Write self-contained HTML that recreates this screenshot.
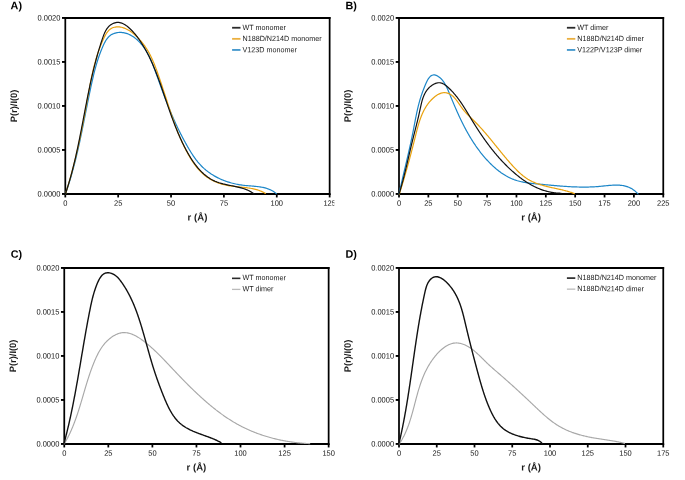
<!DOCTYPE html>
<html><head><meta charset="utf-8"><title>P(r) distributions</title>
<style>
html,body{margin:0;padding:0;background:#fff;}
body{width:685px;height:480px;overflow:hidden;}
svg{display:block;font-family:"Liberation Sans", sans-serif;}
text{filter:grayscale(1);}
</style></head>
<body>
<svg width="685" height="480" viewBox="0 0 685 480">
<rect width="685" height="480" fill="#fff"/>
<text transform="translate(10.60,9.20) rotate(0.05)" font-size="10.8" font-weight="bold" fill="#000">A)</text>
<line x1="64.42" y1="17.95" x2="330.51" y2="17.95" stroke="#000" stroke-width="1.90"/>
<line x1="64.42" y1="193.95" x2="330.51" y2="193.95" stroke="#000" stroke-width="1.90"/>
<line x1="65.30" y1="17.00" x2="65.30" y2="194.90" stroke="#000" stroke-width="1.75"/>
<line x1="329.64" y1="17.00" x2="329.64" y2="194.90" stroke="#000" stroke-width="1.75"/>
<line x1="62.00" y1="193.95" x2="65.30" y2="193.95" stroke="#000" stroke-width="1.90"/>
<text transform="translate(60.40,196.40) rotate(0.050) scale(1,1.040)" font-size="7.50" text-anchor="end" fill="#1a1a1a">0.0000</text>
<line x1="62.00" y1="149.95" x2="65.30" y2="149.95" stroke="#000" stroke-width="1.90"/>
<text transform="translate(60.40,152.40) rotate(0.050) scale(1,1.040)" font-size="7.50" text-anchor="end" fill="#1a1a1a">0.0005</text>
<line x1="62.00" y1="105.95" x2="65.30" y2="105.95" stroke="#000" stroke-width="1.90"/>
<text transform="translate(60.40,108.40) rotate(0.050) scale(1,1.040)" font-size="7.50" text-anchor="end" fill="#1a1a1a">0.0010</text>
<line x1="62.00" y1="61.95" x2="65.30" y2="61.95" stroke="#000" stroke-width="1.90"/>
<text transform="translate(60.40,64.40) rotate(0.050) scale(1,1.040)" font-size="7.50" text-anchor="end" fill="#1a1a1a">0.0015</text>
<line x1="62.00" y1="17.95" x2="65.30" y2="17.95" stroke="#000" stroke-width="1.90"/>
<text transform="translate(60.40,20.40) rotate(0.050) scale(1,1.040)" font-size="7.50" text-anchor="end" fill="#1a1a1a">0.0020</text>
<line x1="65.30" y1="193.95" x2="65.30" y2="197.45" stroke="#000" stroke-width="1.75"/>
<text transform="translate(65.30,205.80) rotate(0.050) scale(1,1.040)" font-size="7.50" text-anchor="middle" fill="#1a1a1a">0</text>
<line x1="118.17" y1="193.95" x2="118.17" y2="197.45" stroke="#000" stroke-width="1.75"/>
<text transform="translate(118.17,205.80) rotate(0.050) scale(1,1.040)" font-size="7.50" text-anchor="middle" fill="#1a1a1a">25</text>
<line x1="171.04" y1="193.95" x2="171.04" y2="197.45" stroke="#000" stroke-width="1.75"/>
<text transform="translate(171.04,205.80) rotate(0.050) scale(1,1.040)" font-size="7.50" text-anchor="middle" fill="#1a1a1a">50</text>
<line x1="223.90" y1="193.95" x2="223.90" y2="197.45" stroke="#000" stroke-width="1.75"/>
<text transform="translate(223.90,205.80) rotate(0.050) scale(1,1.040)" font-size="7.50" text-anchor="middle" fill="#1a1a1a">75</text>
<line x1="276.77" y1="193.95" x2="276.77" y2="197.45" stroke="#000" stroke-width="1.75"/>
<text transform="translate(276.77,205.80) rotate(0.050) scale(1,1.040)" font-size="7.50" text-anchor="middle" fill="#1a1a1a">100</text>
<line x1="329.64" y1="193.95" x2="329.64" y2="197.45" stroke="#000" stroke-width="1.75"/>
<text transform="translate(329.64,205.80) rotate(0.050) scale(1,1.040)" font-size="7.50" text-anchor="middle" fill="#1a1a1a">125</text>
<text transform="translate(197.47,220.45) rotate(0.05)" font-size="9.60" font-weight="bold" text-anchor="middle" fill="#1a1a1a">r (&#197;)</text>
<text transform="translate(17.00,105.95) rotate(-89.95)" font-size="9.30" font-weight="bold" text-anchor="middle" fill="#1a1a1a">P(r)/I(0)</text>
<path d="M65.44,193.74 L65.80,192.75 L66.15,191.76 L66.49,190.77 L66.83,189.77 L67.17,188.78 L67.51,187.78 L67.84,186.78 L68.17,185.78 L68.49,184.78 L68.81,183.78 L69.13,182.78 L69.44,181.78 L69.75,180.78 L70.06,179.77 L70.37,178.77 L70.67,177.76 L70.97,176.75 L71.26,175.74 L71.55,174.73 L71.84,173.73 L72.13,172.71 L72.41,171.70 L72.70,170.69 L72.97,169.68 L73.25,168.66 L73.52,167.65 L73.79,166.64 L74.06,165.62 L74.33,164.60 L74.59,163.59 L74.85,162.57 L75.11,161.55 L75.37,160.53 L75.62,159.51 L75.87,158.49 L76.12,157.47 L76.37,156.45 L76.61,155.43 L76.86,154.40 L77.10,153.38 L77.34,152.36 L77.58,151.33 L77.81,150.31 L78.05,149.28 L78.28,148.26 L78.51,147.23 L78.74,146.20 L78.97,145.18 L79.19,144.15 L79.42,143.12 L79.64,142.09 L79.86,141.07 L80.08,140.04 L80.30,139.01 L80.52,137.98 L80.74,136.95 L80.96,135.92 L81.17,134.89 L81.39,133.86 L81.60,132.83 L81.81,131.80 L82.02,130.77 L82.23,129.74 L82.44,128.71 L82.65,127.67 L82.86,126.64 L83.07,125.61 L83.28,124.58 L83.48,123.55 L83.69,122.51 L83.89,121.48 L84.10,120.45 L84.31,119.42 L84.51,118.39 L84.72,117.35 L84.92,116.32 L85.12,115.29 L85.33,114.26 L85.53,113.23 L85.74,112.19 L85.94,111.16 L86.15,110.13 L86.35,109.10 L86.56,108.07 L86.76,107.04 L86.97,106.01 L87.17,104.97 L87.38,103.94 L87.59,102.91 L87.80,101.88 L88.00,100.85 L88.21,99.82 L88.42,98.79 L88.63,97.77 L88.84,96.74 L89.05,95.71 L89.27,94.68 L89.48,93.65 L89.70,92.62 L89.91,91.60 L90.13,90.57 L90.35,89.54 L90.56,88.52 L90.78,87.49 L91.01,86.47 L91.23,85.44 L91.45,84.42 L91.68,83.40 L91.90,82.37 L92.13,81.35 L92.36,80.33 L92.60,79.31 L92.83,78.29 L93.07,77.27 L93.31,76.25 L93.55,75.23 L93.80,74.21 L94.05,73.19 L94.30,72.17 L94.56,71.16 L94.82,70.14 L95.09,69.13 L95.36,68.11 L95.64,67.10 L95.92,66.09 L96.21,65.08 L96.50,64.07 L96.80,63.06 L97.11,62.05 L97.42,61.04 L97.74,60.03 L98.07,59.02 L98.40,58.02 L98.74,57.01 L99.09,56.01 L99.44,55.01 L99.81,54.00 L100.18,53.00 L100.56,52.00 L100.95,51.00 L101.35,50.01 L101.76,49.01 L102.18,48.01 L102.61,47.02 L103.04,46.02 L103.49,45.03 L103.95,44.05 L104.43,43.07 L104.93,42.11 L105.45,41.18 L105.99,40.27 L106.57,39.39 L107.17,38.55 L107.81,37.76 L108.49,37.01 L109.20,36.32 L109.96,35.68 L110.76,35.10 L111.60,34.58 L112.47,34.12 L113.37,33.72 L114.29,33.37 L115.24,33.08 L116.21,32.84 L117.20,32.65 L118.20,32.52 L119.21,32.45 L120.23,32.42 L121.25,32.45 L122.27,32.53 L123.29,32.66 L124.30,32.84 L125.31,33.07 L126.30,33.34 L127.28,33.67 L128.24,34.04 L129.20,34.45 L130.14,34.91 L131.06,35.40 L131.98,35.93 L132.88,36.50 L133.76,37.10 L134.63,37.74 L135.48,38.40 L136.32,39.09 L137.14,39.82 L137.94,40.56 L138.73,41.33 L139.50,42.12 L140.25,42.93 L140.98,43.76 L141.70,44.60 L142.39,45.46 L143.07,46.33 L143.72,47.21 L144.36,48.09 L144.98,48.99 L145.57,49.89 L146.15,50.80 L146.70,51.70 L147.23,52.61 L147.75,53.53 L148.25,54.45 L148.73,55.37 L149.20,56.29 L149.65,57.22 L150.09,58.15 L150.52,59.08 L150.93,60.02 L151.34,60.96 L151.73,61.90 L152.12,62.84 L152.50,63.79 L152.87,64.74 L153.23,65.70 L153.60,66.65 L153.95,67.61 L154.31,68.57 L154.66,69.54 L155.01,70.51 L155.37,71.48 L155.72,72.45 L156.07,73.43 L156.42,74.40 L156.78,75.39 L157.13,76.37 L157.49,77.35 L157.84,78.34 L158.20,79.33 L158.56,80.32 L158.91,81.31 L159.27,82.30 L159.63,83.29 L159.99,84.29 L160.35,85.28 L160.72,86.28 L161.08,87.27 L161.44,88.27 L161.81,89.27 L162.18,90.27 L162.55,91.26 L162.91,92.26 L163.28,93.26 L163.66,94.26 L164.03,95.25 L164.40,96.25 L164.78,97.25 L165.16,98.24 L165.54,99.24 L165.92,100.23 L166.30,101.22 L166.68,102.21 L167.07,103.20 L167.46,104.19 L167.84,105.17 L168.24,106.15 L168.63,107.13 L169.02,108.11 L169.42,109.09 L169.82,110.07 L170.22,111.04 L170.62,112.01 L171.03,112.97 L171.43,113.94 L171.84,114.90 L172.25,115.86 L172.67,116.81 L173.08,117.77 L173.50,118.72 L173.92,119.67 L174.35,120.62 L174.78,121.56 L175.21,122.51 L175.64,123.45 L176.07,124.39 L176.51,125.33 L176.96,126.27 L177.40,127.20 L177.85,128.14 L178.30,129.07 L178.76,130.01 L179.22,130.94 L179.68,131.87 L180.14,132.80 L180.61,133.72 L181.09,134.65 L181.57,135.58 L182.05,136.51 L182.53,137.43 L183.02,138.36 L183.51,139.28 L184.01,140.21 L184.51,141.13 L185.02,142.06 L185.53,142.98 L186.05,143.91 L186.57,144.83 L187.09,145.75 L187.62,146.68 L188.15,147.60 L188.69,148.53 L189.24,149.45 L189.79,150.37 L190.35,151.29 L190.91,152.20 L191.49,153.11 L192.07,154.01 L192.65,154.91 L193.25,155.80 L193.85,156.68 L194.47,157.55 L195.09,158.42 L195.72,159.28 L196.36,160.13 L197.02,160.96 L197.68,161.79 L198.36,162.60 L199.04,163.40 L199.74,164.19 L200.45,164.96 L201.17,165.72 L201.91,166.47 L202.65,167.20 L203.41,167.91 L204.18,168.61 L204.97,169.29 L205.76,169.97 L206.56,170.62 L207.38,171.26 L208.21,171.89 L209.04,172.50 L209.89,173.10 L210.75,173.69 L211.61,174.26 L212.49,174.81 L213.37,175.35 L214.26,175.88 L215.17,176.39 L216.08,176.89 L217.00,177.38 L217.92,177.85 L218.86,178.31 L219.80,178.75 L220.75,179.18 L221.71,179.60 L222.67,180.00 L223.64,180.39 L224.62,180.77 L225.60,181.13 L226.59,181.48 L227.59,181.81 L228.59,182.13 L229.60,182.44 L230.61,182.73 L231.62,183.02 L232.64,183.28 L233.67,183.54 L234.70,183.78 L235.73,184.01 L236.77,184.22 L237.81,184.43 L238.86,184.62 L239.90,184.79 L240.95,184.96 L242.00,185.11 L243.06,185.25 L244.12,185.37 L245.18,185.48 L246.24,185.59 L247.30,185.68 L248.36,185.77 L249.42,185.86 L250.48,185.94 L251.54,186.02 L252.60,186.10 L253.66,186.19 L254.71,186.28 L255.76,186.38 L256.81,186.49 L257.85,186.61 L258.89,186.74 L259.92,186.89 L260.95,187.05 L261.97,187.24 L262.99,187.44 L264.00,187.67 L265.00,187.92 L265.99,188.20 L266.97,188.50 L267.95,188.84 L268.92,189.21 L269.87,189.62 L270.82,190.06 L271.75,190.54 L272.68,191.05 L273.59,191.61 L274.49,192.22 L275.37,192.87 L276.25,193.57" fill="none" stroke="#1C86C8" stroke-width="1.20" stroke-linejoin="round" stroke-linecap="round"/>
<path d="M65.50,193.73 L65.82,192.73 L66.15,191.73 L66.47,190.73 L66.78,189.72 L67.10,188.72 L67.41,187.71 L67.72,186.70 L68.02,185.69 L68.33,184.68 L68.63,183.67 L68.93,182.66 L69.23,181.65 L69.52,180.64 L69.81,179.62 L70.10,178.61 L70.39,177.59 L70.68,176.57 L70.96,175.56 L71.24,174.54 L71.52,173.52 L71.80,172.50 L72.08,171.48 L72.35,170.46 L72.62,169.43 L72.89,168.41 L73.16,167.39 L73.42,166.36 L73.68,165.34 L73.94,164.31 L74.20,163.29 L74.46,162.26 L74.72,161.23 L74.97,160.20 L75.22,159.17 L75.47,158.14 L75.72,157.11 L75.97,156.08 L76.21,155.05 L76.45,154.02 L76.69,152.99 L76.93,151.96 L77.17,150.92 L77.41,149.89 L77.64,148.86 L77.88,147.82 L78.11,146.79 L78.34,145.75 L78.57,144.71 L78.79,143.68 L79.02,142.64 L79.24,141.60 L79.47,140.57 L79.69,139.53 L79.91,138.49 L80.13,137.45 L80.34,136.41 L80.56,135.38 L80.77,134.34 L80.99,133.30 L81.20,132.26 L81.41,131.22 L81.62,130.18 L81.83,129.14 L82.04,128.10 L82.24,127.06 L82.45,126.02 L82.65,124.97 L82.86,123.93 L83.06,122.89 L83.26,121.85 L83.46,120.81 L83.66,119.77 L83.86,118.73 L84.06,117.69 L84.25,116.64 L84.45,115.60 L84.65,114.56 L84.84,113.52 L85.03,112.48 L85.23,111.44 L85.42,110.40 L85.61,109.35 L85.80,108.31 L85.99,107.27 L86.18,106.23 L86.37,105.19 L86.56,104.15 L86.74,103.11 L86.93,102.07 L87.12,101.03 L87.30,99.99 L87.49,98.95 L87.67,97.91 L87.86,96.87 L88.04,95.83 L88.23,94.79 L88.42,93.75 L88.60,92.71 L88.79,91.68 L88.98,90.64 L89.17,89.60 L89.36,88.56 L89.55,87.53 L89.74,86.49 L89.93,85.46 L90.13,84.42 L90.33,83.39 L90.53,82.35 L90.73,81.32 L90.94,80.29 L91.15,79.25 L91.36,78.22 L91.57,77.19 L91.79,76.16 L92.01,75.13 L92.24,74.10 L92.47,73.07 L92.70,72.04 L92.93,71.01 L93.18,69.99 L93.42,68.96 L93.67,67.93 L93.92,66.91 L94.18,65.89 L94.45,64.86 L94.72,63.84 L94.99,62.82 L95.27,61.80 L95.56,60.78 L95.85,59.76 L96.15,58.74 L96.45,57.72 L96.77,56.70 L97.08,55.69 L97.41,54.67 L97.74,53.66 L98.08,52.65 L98.42,51.63 L98.78,50.62 L99.14,49.61 L99.51,48.60 L99.88,47.60 L100.27,46.59 L100.66,45.58 L101.06,44.58 L101.47,43.58 L101.89,42.57 L102.32,41.57 L102.75,40.57 L103.20,39.57 L103.66,38.58 L104.12,37.59 L104.61,36.61 L105.10,35.64 L105.62,34.70 L106.17,33.79 L106.74,32.91 L107.33,32.07 L107.96,31.28 L108.63,30.54 L109.33,29.85 L110.07,29.23 L110.86,28.68 L111.69,28.20 L112.57,27.80 L113.49,27.47 L114.43,27.22 L115.41,27.04 L116.40,26.92 L117.39,26.87 L118.39,26.89 L119.39,26.96 L120.38,27.09 L121.37,27.28 L122.36,27.53 L123.34,27.82 L124.32,28.16 L125.29,28.55 L126.25,28.98 L127.21,29.46 L128.15,29.97 L129.09,30.52 L130.01,31.11 L130.93,31.73 L131.83,32.38 L132.72,33.05 L133.60,33.76 L134.46,34.48 L135.31,35.23 L136.15,36.00 L136.96,36.78 L137.76,37.58 L138.55,38.39 L139.31,39.21 L140.05,40.03 L140.78,40.86 L141.48,41.70 L142.17,42.54 L142.84,43.39 L143.49,44.25 L144.12,45.11 L144.74,45.97 L145.34,46.84 L145.93,47.72 L146.50,48.60 L147.05,49.48 L147.60,50.37 L148.12,51.27 L148.64,52.17 L149.14,53.07 L149.63,53.98 L150.11,54.89 L150.58,55.81 L151.03,56.73 L151.48,57.66 L151.91,58.59 L152.34,59.53 L152.76,60.47 L153.17,61.41 L153.57,62.36 L153.97,63.31 L154.35,64.26 L154.74,65.22 L155.11,66.18 L155.48,67.15 L155.85,68.12 L156.21,69.09 L156.57,70.06 L156.92,71.04 L157.27,72.02 L157.62,73.01 L157.97,74.00 L158.32,74.99 L158.66,75.98 L159.00,76.97 L159.35,77.97 L159.69,78.97 L160.03,79.97 L160.37,80.98 L160.71,81.99 L161.05,82.99 L161.39,84.00 L161.72,85.02 L162.06,86.03 L162.40,87.04 L162.73,88.06 L163.07,89.08 L163.40,90.09 L163.74,91.11 L164.07,92.13 L164.40,93.15 L164.74,94.17 L165.07,95.19 L165.40,96.21 L165.73,97.23 L166.06,98.24 L166.40,99.26 L166.73,100.28 L167.06,101.30 L167.39,102.32 L167.72,103.33 L168.05,104.35 L168.38,105.36 L168.71,106.37 L169.04,107.39 L169.38,108.40 L169.71,109.41 L170.04,110.41 L170.38,111.42 L170.71,112.43 L171.05,113.43 L171.39,114.44 L171.73,115.44 L172.07,116.44 L172.41,117.44 L172.76,118.44 L173.11,119.44 L173.46,120.43 L173.81,121.43 L174.16,122.42 L174.52,123.41 L174.88,124.40 L175.24,125.39 L175.61,126.37 L175.97,127.36 L176.35,128.34 L176.72,129.32 L177.10,130.30 L177.48,131.28 L177.87,132.26 L178.26,133.23 L178.66,134.21 L179.06,135.18 L179.46,136.15 L179.87,137.12 L180.28,138.08 L180.70,139.05 L181.12,140.01 L181.55,140.97 L181.98,141.93 L182.42,142.88 L182.86,143.84 L183.31,144.79 L183.77,145.74 L184.23,146.69 L184.70,147.63 L185.17,148.57 L185.65,149.52 L186.14,150.46 L186.63,151.39 L187.13,152.33 L187.64,153.26 L188.15,154.19 L188.68,155.12 L189.20,156.04 L189.74,156.96 L190.29,157.88 L190.84,158.79 L191.40,159.70 L191.97,160.60 L192.56,161.49 L193.15,162.38 L193.75,163.26 L194.36,164.13 L194.99,164.99 L195.62,165.84 L196.27,166.67 L196.93,167.50 L197.60,168.32 L198.28,169.12 L198.98,169.91 L199.69,170.68 L200.42,171.44 L201.16,172.19 L201.91,172.92 L202.68,173.63 L203.47,174.32 L204.27,175.00 L205.09,175.66 L205.92,176.30 L206.77,176.92 L207.64,177.52 L208.52,178.10 L209.42,178.66 L210.33,179.20 L211.25,179.72 L212.19,180.22 L213.13,180.70 L214.09,181.16 L215.06,181.60 L216.04,182.03 L217.03,182.43 L218.03,182.82 L219.04,183.18 L220.05,183.53 L221.07,183.86 L222.10,184.17 L223.13,184.46 L224.16,184.73 L225.20,184.98 L226.25,185.21 L227.29,185.43 L228.34,185.62 L229.39,185.81 L230.45,185.97 L231.50,186.12 L232.55,186.27 L233.61,186.40 L234.66,186.52 L235.72,186.63 L236.78,186.74 L237.83,186.85 L238.89,186.95 L239.94,187.05 L241.00,187.15 L242.05,187.25 L243.10,187.35 L244.15,187.46 L245.20,187.57 L246.24,187.70 L247.29,187.83 L248.33,187.97 L249.36,188.12 L250.39,188.28 L251.42,188.47 L252.45,188.66 L253.47,188.88 L254.48,189.11 L255.50,189.36 L256.50,189.64 L257.50,189.94 L258.50,190.27 L259.49,190.62 L260.47,191.00 L261.45,191.41 L262.42,191.85 L263.38,192.32 L264.33,192.83 L265.28,193.37" fill="none" stroke="#E9A20E" stroke-width="1.20" stroke-linejoin="round" stroke-linecap="round"/>
<path d="M65.46,193.69 L65.79,192.71 L66.12,191.73 L66.44,190.75 L66.76,189.76 L67.08,188.77 L67.39,187.79 L67.70,186.80 L68.01,185.81 L68.32,184.81 L68.62,183.82 L68.91,182.82 L69.21,181.83 L69.50,180.83 L69.79,179.83 L70.08,178.83 L70.36,177.83 L70.64,176.82 L70.92,175.82 L71.19,174.81 L71.46,173.81 L71.73,172.80 L72.00,171.79 L72.26,170.78 L72.52,169.77 L72.78,168.76 L73.04,167.74 L73.29,166.73 L73.55,165.72 L73.80,164.70 L74.04,163.68 L74.29,162.66 L74.53,161.65 L74.77,160.63 L75.01,159.61 L75.25,158.59 L75.49,157.56 L75.72,156.54 L75.95,155.52 L76.18,154.50 L76.41,153.47 L76.63,152.45 L76.86,151.42 L77.08,150.39 L77.30,149.37 L77.52,148.34 L77.74,147.31 L77.96,146.28 L78.17,145.26 L78.39,144.23 L78.60,143.20 L78.81,142.17 L79.02,141.14 L79.23,140.11 L79.44,139.08 L79.65,138.05 L79.85,137.02 L80.06,135.98 L80.26,134.95 L80.46,133.92 L80.67,132.89 L80.87,131.86 L81.07,130.83 L81.27,129.79 L81.47,128.76 L81.67,127.73 L81.87,126.70 L82.06,125.67 L82.26,124.64 L82.46,123.60 L82.65,122.57 L82.85,121.54 L83.05,120.51 L83.24,119.48 L83.44,118.45 L83.63,117.42 L83.83,116.39 L84.02,115.36 L84.22,114.33 L84.41,113.30 L84.61,112.27 L84.81,111.24 L85.00,110.22 L85.20,109.19 L85.39,108.16 L85.59,107.14 L85.79,106.11 L85.98,105.08 L86.18,104.06 L86.38,103.04 L86.58,102.01 L86.78,100.99 L86.98,99.97 L87.18,98.95 L87.38,97.93 L87.58,96.91 L87.78,95.89 L87.99,94.87 L88.19,93.85 L88.40,92.84 L88.61,91.82 L88.81,90.81 L89.02,89.79 L89.23,88.78 L89.45,87.77 L89.66,86.76 L89.87,85.74 L90.09,84.73 L90.31,83.72 L90.52,82.71 L90.74,81.70 L90.97,80.69 L91.19,79.69 L91.42,78.68 L91.64,77.67 L91.87,76.66 L92.10,75.65 L92.34,74.65 L92.57,73.64 L92.81,72.63 L93.05,71.62 L93.29,70.62 L93.54,69.61 L93.79,68.60 L94.03,67.59 L94.29,66.59 L94.54,65.58 L94.80,64.57 L95.06,63.56 L95.32,62.55 L95.59,61.54 L95.85,60.53 L96.13,59.52 L96.40,58.51 L96.68,57.50 L96.96,56.49 L97.24,55.48 L97.53,54.46 L97.82,53.45 L98.11,52.44 L98.41,51.42 L98.71,50.41 L99.01,49.39 L99.32,48.37 L99.63,47.35 L99.95,46.33 L100.27,45.31 L100.59,44.29 L100.91,43.27 L101.24,42.25 L101.58,41.22 L101.92,40.20 L102.26,39.17 L102.61,38.14 L102.96,37.12 L103.33,36.10 L103.71,35.09 L104.11,34.10 L104.52,33.12 L104.96,32.16 L105.43,31.23 L105.92,30.32 L106.45,29.44 L107.01,28.60 L107.61,27.79 L108.25,27.03 L108.93,26.31 L109.66,25.63 L110.44,25.01 L111.27,24.44 L112.13,23.94 L113.03,23.49 L113.96,23.12 L114.91,22.82 L115.88,22.59 L116.86,22.45 L117.84,22.40 L118.82,22.43 L119.80,22.57 L120.77,22.79 L121.73,23.10 L122.67,23.48 L123.61,23.93 L124.53,24.45 L125.44,25.02 L126.33,25.64 L127.21,26.30 L128.07,26.99 L128.91,27.71 L129.73,28.45 L130.53,29.21 L131.31,29.97 L132.06,30.74 L132.80,31.52 L133.52,32.31 L134.22,33.11 L134.91,33.92 L135.58,34.73 L136.23,35.55 L136.87,36.38 L137.50,37.21 L138.12,38.05 L138.72,38.90 L139.31,39.75 L139.90,40.61 L140.47,41.47 L141.04,42.34 L141.60,43.21 L142.15,44.09 L142.70,44.97 L143.24,45.85 L143.77,46.74 L144.29,47.63 L144.81,48.53 L145.32,49.43 L145.82,50.34 L146.32,51.25 L146.81,52.16 L147.29,53.07 L147.77,53.99 L148.25,54.92 L148.71,55.84 L149.17,56.77 L149.63,57.71 L150.08,58.64 L150.52,59.58 L150.96,60.52 L151.39,61.47 L151.82,62.42 L152.25,63.37 L152.67,64.32 L153.08,65.28 L153.49,66.24 L153.90,67.20 L154.30,68.16 L154.70,69.12 L155.09,70.09 L155.49,71.06 L155.87,72.03 L156.26,73.01 L156.63,73.98 L157.01,74.96 L157.39,75.94 L157.76,76.92 L158.12,77.90 L158.49,78.88 L158.85,79.86 L159.21,80.85 L159.57,81.84 L159.92,82.82 L160.28,83.81 L160.63,84.80 L160.98,85.79 L161.32,86.78 L161.67,87.77 L162.01,88.77 L162.36,89.76 L162.70,90.75 L163.04,91.74 L163.38,92.74 L163.72,93.73 L164.06,94.73 L164.40,95.72 L164.73,96.71 L165.07,97.71 L165.41,98.70 L165.74,99.69 L166.08,100.68 L166.42,101.68 L166.76,102.67 L167.09,103.66 L167.43,104.65 L167.77,105.64 L168.11,106.62 L168.45,107.61 L168.80,108.60 L169.14,109.58 L169.48,110.57 L169.83,111.55 L170.18,112.54 L170.53,113.52 L170.88,114.50 L171.23,115.48 L171.59,116.46 L171.94,117.44 L172.30,118.41 L172.66,119.39 L173.03,120.37 L173.39,121.34 L173.76,122.31 L174.13,123.28 L174.51,124.25 L174.89,125.22 L175.27,126.19 L175.65,127.16 L176.04,128.13 L176.43,129.09 L176.83,130.05 L177.22,131.02 L177.63,131.98 L178.03,132.94 L178.44,133.89 L178.86,134.85 L179.27,135.81 L179.70,136.76 L180.12,137.71 L180.56,138.66 L180.99,139.61 L181.43,140.56 L181.88,141.51 L182.33,142.45 L182.79,143.39 L183.25,144.34 L183.72,145.28 L184.19,146.21 L184.67,147.15 L185.15,148.09 L185.65,149.02 L186.14,149.95 L186.64,150.88 L187.15,151.81 L187.67,152.73 L188.19,153.66 L188.72,154.57 L189.25,155.49 L189.80,156.40 L190.35,157.30 L190.91,158.20 L191.48,159.09 L192.05,159.98 L192.63,160.85 L193.23,161.72 L193.83,162.58 L194.44,163.44 L195.06,164.28 L195.69,165.12 L196.32,165.94 L196.97,166.75 L197.63,167.55 L198.30,168.34 L198.98,169.12 L199.67,169.88 L200.37,170.63 L201.09,171.37 L201.81,172.09 L202.55,172.80 L203.29,173.49 L204.05,174.17 L204.83,174.83 L205.61,175.47 L206.41,176.09 L207.22,176.70 L208.04,177.29 L208.88,177.86 L209.73,178.41 L210.59,178.94 L211.47,179.45 L212.36,179.93 L213.27,180.40 L214.19,180.84 L215.13,181.27 L216.08,181.66 L217.05,182.04 L218.03,182.39 L219.02,182.73 L220.03,183.04 L221.04,183.34 L222.07,183.63 L223.10,183.90 L224.15,184.15 L225.19,184.40 L226.25,184.64 L227.31,184.87 L228.37,185.09 L229.44,185.31 L230.51,185.53 L231.58,185.75 L232.64,185.96 L233.71,186.18 L234.78,186.40 L235.84,186.63 L236.89,186.86 L237.95,187.10 L238.99,187.35 L240.03,187.61 L241.06,187.88 L242.08,188.17 L243.09,188.47 L244.08,188.79 L245.07,189.13 L246.04,189.49 L247.00,189.87 L247.94,190.27 L248.86,190.70 L249.77,191.16 L250.66,191.64 L251.53,192.16 L252.38,192.70 L253.20,193.28 L254.01,193.89" fill="none" stroke="#111" stroke-width="1.20" stroke-linejoin="round" stroke-linecap="round"/>
<line x1="232.10" y1="27.75" x2="240.50" y2="27.75" stroke="#2a2a2a" stroke-width="1.80"/>
<text transform="translate(242.50,29.95) rotate(0.050) scale(1,1.040)" font-size="7.20" text-anchor="start" fill="#1a1a1a">WT monomer</text>
<line x1="232.10" y1="38.85" x2="240.50" y2="38.85" stroke="#EBB040" stroke-width="1.80"/>
<text transform="translate(242.50,41.05) rotate(0.050) scale(1,1.040)" font-size="7.20" text-anchor="start" fill="#1a1a1a">N188D/N214D monomer</text>
<line x1="232.10" y1="49.95" x2="240.50" y2="49.95" stroke="#3F95CC" stroke-width="1.80"/>
<text transform="translate(242.50,52.15) rotate(0.050) scale(1,1.040)" font-size="7.20" text-anchor="start" fill="#1a1a1a">V123D monomer</text>
<rect x="334.4" y="197" width="4" height="12" fill="#fff"/>
<text transform="translate(345.40,9.20) rotate(0.05)" font-size="10.8" font-weight="bold" fill="#000">B)</text>
<line x1="398.12" y1="17.95" x2="664.13" y2="17.95" stroke="#000" stroke-width="1.90"/>
<line x1="398.12" y1="193.95" x2="664.13" y2="193.95" stroke="#000" stroke-width="1.90"/>
<line x1="399.00" y1="17.00" x2="399.00" y2="194.90" stroke="#000" stroke-width="1.75"/>
<line x1="663.26" y1="17.00" x2="663.26" y2="194.90" stroke="#000" stroke-width="1.75"/>
<line x1="395.70" y1="193.95" x2="399.00" y2="193.95" stroke="#000" stroke-width="1.90"/>
<text transform="translate(394.10,196.40) rotate(0.050) scale(1,1.040)" font-size="7.50" text-anchor="end" fill="#1a1a1a">0.0000</text>
<line x1="395.70" y1="149.95" x2="399.00" y2="149.95" stroke="#000" stroke-width="1.90"/>
<text transform="translate(394.10,152.40) rotate(0.050) scale(1,1.040)" font-size="7.50" text-anchor="end" fill="#1a1a1a">0.0005</text>
<line x1="395.70" y1="105.95" x2="399.00" y2="105.95" stroke="#000" stroke-width="1.90"/>
<text transform="translate(394.10,108.40) rotate(0.050) scale(1,1.040)" font-size="7.50" text-anchor="end" fill="#1a1a1a">0.0010</text>
<line x1="395.70" y1="61.95" x2="399.00" y2="61.95" stroke="#000" stroke-width="1.90"/>
<text transform="translate(394.10,64.40) rotate(0.050) scale(1,1.040)" font-size="7.50" text-anchor="end" fill="#1a1a1a">0.0015</text>
<line x1="395.70" y1="17.95" x2="399.00" y2="17.95" stroke="#000" stroke-width="1.90"/>
<text transform="translate(394.10,20.40) rotate(0.050) scale(1,1.040)" font-size="7.50" text-anchor="end" fill="#1a1a1a">0.0020</text>
<line x1="399.00" y1="193.95" x2="399.00" y2="197.45" stroke="#000" stroke-width="1.75"/>
<text transform="translate(399.00,205.80) rotate(0.050) scale(1,1.040)" font-size="7.50" text-anchor="middle" fill="#1a1a1a">0</text>
<line x1="428.36" y1="193.95" x2="428.36" y2="197.45" stroke="#000" stroke-width="1.75"/>
<text transform="translate(428.36,205.80) rotate(0.050) scale(1,1.040)" font-size="7.50" text-anchor="middle" fill="#1a1a1a">25</text>
<line x1="457.72" y1="193.95" x2="457.72" y2="197.45" stroke="#000" stroke-width="1.75"/>
<text transform="translate(457.72,205.80) rotate(0.050) scale(1,1.040)" font-size="7.50" text-anchor="middle" fill="#1a1a1a">50</text>
<line x1="487.09" y1="193.95" x2="487.09" y2="197.45" stroke="#000" stroke-width="1.75"/>
<text transform="translate(487.09,205.80) rotate(0.050) scale(1,1.040)" font-size="7.50" text-anchor="middle" fill="#1a1a1a">75</text>
<line x1="516.45" y1="193.95" x2="516.45" y2="197.45" stroke="#000" stroke-width="1.75"/>
<text transform="translate(516.45,205.80) rotate(0.050) scale(1,1.040)" font-size="7.50" text-anchor="middle" fill="#1a1a1a">100</text>
<line x1="545.81" y1="193.95" x2="545.81" y2="197.45" stroke="#000" stroke-width="1.75"/>
<text transform="translate(545.81,205.80) rotate(0.050) scale(1,1.040)" font-size="7.50" text-anchor="middle" fill="#1a1a1a">125</text>
<line x1="575.17" y1="193.95" x2="575.17" y2="197.45" stroke="#000" stroke-width="1.75"/>
<text transform="translate(575.17,205.80) rotate(0.050) scale(1,1.040)" font-size="7.50" text-anchor="middle" fill="#1a1a1a">150</text>
<line x1="604.54" y1="193.95" x2="604.54" y2="197.45" stroke="#000" stroke-width="1.75"/>
<text transform="translate(604.54,205.80) rotate(0.050) scale(1,1.040)" font-size="7.50" text-anchor="middle" fill="#1a1a1a">175</text>
<line x1="633.90" y1="193.95" x2="633.90" y2="197.45" stroke="#000" stroke-width="1.75"/>
<text transform="translate(633.90,205.80) rotate(0.050) scale(1,1.040)" font-size="7.50" text-anchor="middle" fill="#1a1a1a">200</text>
<line x1="663.26" y1="193.95" x2="663.26" y2="197.45" stroke="#000" stroke-width="1.75"/>
<text transform="translate(663.26,205.80) rotate(0.050) scale(1,1.040)" font-size="7.50" text-anchor="middle" fill="#1a1a1a">225</text>
<text transform="translate(531.13,220.45) rotate(0.05)" font-size="9.60" font-weight="bold" text-anchor="middle" fill="#1a1a1a">r (&#197;)</text>
<text transform="translate(350.70,105.95) rotate(-89.95)" font-size="9.30" font-weight="bold" text-anchor="middle" fill="#1a1a1a">P(r)/I(0)</text>
<path d="M399.00,194.00 L399.21,193.03 L399.42,192.06 L399.64,191.10 L399.85,190.13 L400.07,189.17 L400.28,188.21 L400.50,187.25 L400.71,186.29 L400.93,185.33 L401.15,184.37 L401.37,183.42 L401.59,182.46 L401.81,181.51 L402.03,180.56 L402.25,179.60 L402.47,178.65 L402.69,177.70 L402.91,176.75 L403.13,175.80 L403.36,174.85 L403.58,173.90 L403.80,172.95 L404.03,172.01 L404.25,171.06 L404.47,170.11 L404.69,169.17 L404.92,168.22 L405.14,167.27 L405.36,166.33 L405.59,165.38 L405.81,164.44 L406.03,163.49 L406.25,162.54 L406.48,161.60 L406.70,160.65 L406.92,159.71 L407.14,158.76 L407.36,157.82 L407.58,156.87 L407.80,155.92 L408.02,154.98 L408.23,154.03 L408.45,153.08 L408.67,152.13 L408.88,151.18 L409.10,150.23 L409.31,149.28 L409.53,148.33 L409.74,147.38 L409.95,146.43 L410.16,145.48 L410.37,144.52 L410.58,143.57 L410.79,142.61 L410.99,141.66 L411.20,140.70 L411.40,139.74 L411.60,138.78 L411.80,137.82 L412.00,136.86 L412.20,135.90 L412.40,134.93 L412.60,133.97 L412.79,133.00 L412.98,132.03 L413.17,131.06 L413.36,130.09 L413.55,129.12 L413.74,128.15 L413.92,127.18 L414.11,126.20 L414.29,125.23 L414.48,124.25 L414.66,123.28 L414.85,122.31 L415.04,121.34 L415.22,120.36 L415.41,119.40 L415.60,118.43 L415.79,117.46 L415.98,116.50 L416.17,115.54 L416.37,114.58 L416.57,113.62 L416.77,112.67 L416.97,111.72 L417.18,110.78 L417.39,109.84 L417.60,108.90 L417.82,107.97 L418.04,107.04 L418.26,106.12 L418.49,105.20 L418.72,104.29 L418.96,103.38 L419.21,102.48 L419.46,101.58 L419.71,100.68 L419.98,99.79 L420.24,98.89 L420.52,97.99 L420.81,97.09 L421.10,96.18 L421.40,95.27 L421.71,94.36 L422.03,93.44 L422.36,92.51 L422.69,91.57 L423.04,90.63 L423.40,89.67 L423.77,88.71 L424.16,87.73 L424.55,86.73 L424.96,85.73 L425.38,84.71 L425.81,83.68 L426.26,82.66 L426.73,81.66 L427.22,80.69 L427.74,79.76 L428.28,78.87 L428.85,78.05 L429.45,77.30 L430.08,76.64 L430.74,76.06 L431.44,75.59 L432.18,75.24 L432.96,75.01 L433.76,74.91 L434.58,74.93 L435.40,75.08 L436.22,75.34 L437.03,75.70 L437.83,76.14 L438.59,76.64 L439.32,77.17 L440.03,77.75 L440.70,78.36 L441.34,79.00 L441.96,79.68 L442.55,80.38 L443.11,81.11 L443.66,81.87 L444.18,82.65 L444.68,83.45 L445.17,84.28 L445.64,85.12 L446.09,85.98 L446.53,86.86 L446.95,87.75 L447.37,88.65 L447.77,89.56 L448.17,90.48 L448.56,91.40 L448.95,92.33 L449.33,93.27 L449.72,94.20 L450.10,95.14 L450.48,96.07 L450.86,97.00 L451.24,97.93 L451.63,98.86 L452.01,99.78 L452.39,100.71 L452.78,101.63 L453.17,102.55 L453.55,103.47 L453.94,104.39 L454.33,105.31 L454.73,106.22 L455.12,107.13 L455.51,108.04 L455.91,108.95 L456.31,109.86 L456.71,110.76 L457.11,111.66 L457.51,112.56 L457.92,113.46 L458.32,114.36 L458.73,115.25 L459.15,116.15 L459.56,117.03 L459.98,117.92 L460.40,118.81 L460.82,119.69 L461.24,120.57 L461.67,121.45 L462.10,122.32 L462.54,123.20 L462.97,124.07 L463.41,124.94 L463.86,125.80 L464.30,126.67 L464.75,127.53 L465.21,128.39 L465.66,129.24 L466.12,130.09 L466.59,130.95 L467.06,131.79 L467.53,132.64 L468.00,133.48 L468.48,134.32 L468.97,135.16 L469.46,135.99 L469.95,136.82 L470.45,137.65 L470.95,138.47 L471.46,139.29 L471.97,140.11 L472.48,140.93 L473.00,141.74 L473.53,142.55 L474.06,143.36 L474.60,144.16 L475.14,144.96 L475.68,145.76 L476.24,146.55 L476.79,147.34 L477.36,148.13 L477.92,148.91 L478.50,149.69 L479.08,150.47 L479.66,151.24 L480.26,152.01 L480.85,152.78 L481.46,153.54 L482.07,154.30 L482.69,155.06 L483.31,155.81 L483.94,156.56 L484.57,157.30 L485.22,158.04 L485.87,158.78 L486.52,159.51 L487.19,160.24 L487.86,160.96 L488.53,161.68 L489.22,162.39 L489.91,163.09 L490.60,163.79 L491.31,164.48 L492.02,165.17 L492.73,165.84 L493.46,166.51 L494.19,167.17 L494.92,167.82 L495.67,168.46 L496.42,169.09 L497.18,169.72 L497.94,170.33 L498.71,170.93 L499.49,171.52 L500.28,172.10 L501.07,172.67 L501.87,173.22 L502.68,173.76 L503.49,174.29 L504.31,174.81 L505.14,175.32 L505.97,175.81 L506.81,176.28 L507.66,176.74 L508.52,177.19 L509.38,177.62 L510.25,178.03 L511.13,178.43 L512.01,178.82 L512.90,179.18 L513.80,179.53 L514.71,179.86 L515.62,180.18 L516.54,180.47 L517.46,180.75 L518.40,181.01 L519.33,181.26 L520.28,181.50 L521.23,181.72 L522.18,181.92 L523.14,182.12 L524.10,182.30 L525.07,182.47 L526.04,182.64 L527.01,182.79 L527.99,182.93 L528.97,183.06 L529.95,183.19 L530.93,183.31 L531.92,183.43 L532.90,183.53 L533.89,183.64 L534.88,183.74 L535.87,183.84 L536.86,183.93 L537.85,184.02 L538.83,184.11 L539.82,184.20 L540.81,184.29 L541.79,184.38 L542.77,184.47 L543.76,184.56 L544.74,184.65 L545.72,184.74 L546.69,184.84 L547.67,184.93 L548.65,185.02 L549.62,185.11 L550.60,185.19 L551.57,185.28 L552.54,185.37 L553.51,185.46 L554.48,185.54 L555.45,185.63 L556.42,185.71 L557.39,185.79 L558.36,185.87 L559.33,185.95 L560.29,186.03 L561.26,186.10 L562.23,186.18 L563.19,186.25 L564.16,186.32 L565.12,186.38 L566.09,186.45 L567.05,186.51 L568.02,186.57 L568.98,186.63 L569.95,186.68 L570.91,186.73 L571.87,186.78 L572.84,186.83 L573.80,186.87 L574.77,186.91 L575.73,186.94 L576.70,186.97 L577.66,187.00 L578.63,187.02 L579.60,187.04 L580.56,187.06 L581.53,187.07 L582.50,187.08 L583.47,187.08 L584.44,187.08 L585.41,187.08 L586.38,187.06 L587.35,187.05 L588.32,187.03 L589.29,187.00 L590.27,186.97 L591.24,186.94 L592.22,186.90 L593.19,186.85 L594.17,186.80 L595.15,186.74 L596.13,186.68 L597.11,186.61 L598.09,186.53 L599.08,186.45 L600.06,186.37 L601.05,186.27 L602.04,186.17 L603.02,186.07 L604.01,185.97 L605.00,185.86 L605.99,185.76 L606.98,185.66 L607.97,185.56 L608.95,185.46 L609.94,185.38 L610.92,185.30 L611.90,185.23 L612.88,185.17 L613.86,185.13 L614.83,185.10 L615.80,185.08 L616.77,185.08 L617.73,185.10 L618.69,185.14 L619.64,185.20 L620.59,185.29 L621.53,185.39 L622.47,185.53 L623.40,185.69 L624.33,185.87 L625.24,186.09 L626.16,186.34 L627.06,186.62 L627.96,186.94 L628.85,187.29 L629.73,187.69 L630.60,188.11 L631.47,188.58 L632.32,189.09 L633.17,189.65 L634.00,190.25 L634.83,190.89 L635.64,191.58 L636.45,192.32 L637.24,193.11 L638.02,193.96" fill="none" stroke="#1C86C8" stroke-width="1.20" stroke-linejoin="round" stroke-linecap="round"/>
<path d="M399.30,194.14 L399.52,193.44 L399.74,192.74 L399.96,192.03 L400.18,191.33 L400.39,190.64 L400.61,189.94 L400.83,189.24 L401.04,188.54 L401.25,187.85 L401.46,187.15 L401.68,186.46 L401.89,185.76 L402.10,185.07 L402.31,184.38 L402.51,183.69 L402.72,183.00 L402.93,182.30 L403.13,181.61 L403.34,180.92 L403.54,180.24 L403.75,179.55 L403.95,178.86 L404.15,178.17 L404.35,177.48 L404.55,176.79 L404.75,176.11 L404.95,175.42 L405.15,174.73 L405.35,174.05 L405.54,173.36 L405.74,172.68 L405.93,171.99 L406.13,171.31 L406.32,170.62 L406.52,169.94 L406.71,169.25 L406.90,168.57 L407.10,167.88 L407.29,167.20 L407.48,166.51 L407.67,165.83 L407.86,165.14 L408.05,164.46 L408.23,163.77 L408.42,163.09 L408.61,162.41 L408.80,161.72 L408.98,161.04 L409.17,160.35 L409.36,159.66 L409.54,158.98 L409.73,158.29 L409.91,157.61 L410.09,156.92 L410.28,156.23 L410.46,155.55 L410.64,154.86 L410.82,154.17 L411.01,153.48 L411.19,152.79 L411.37,152.10 L411.55,151.41 L411.73,150.72 L411.91,150.03 L412.09,149.34 L412.27,148.65 L412.45,147.96 L412.63,147.26 L412.81,146.57 L412.98,145.88 L413.16,145.18 L413.34,144.49 L413.52,143.79 L413.69,143.09 L413.87,142.40 L414.05,141.70 L414.22,141.00 L414.40,140.30 L414.58,139.60 L414.75,138.89 L414.93,138.19 L415.11,137.49 L415.28,136.78 L415.46,136.08 L415.63,135.37 L415.81,134.66 L415.98,133.96 L416.16,133.25 L416.34,132.54 L416.52,131.83 L416.70,131.12 L416.88,130.41 L417.07,129.70 L417.25,129.00 L417.44,128.29 L417.63,127.58 L417.82,126.88 L418.02,126.17 L418.22,125.47 L418.42,124.77 L418.63,124.07 L418.84,123.37 L419.05,122.67 L419.27,121.98 L419.49,121.29 L419.72,120.59 L419.95,119.91 L420.18,119.22 L420.43,118.54 L420.67,117.86 L420.93,117.18 L421.19,116.51 L421.45,115.83 L421.72,115.17 L422.00,114.50 L422.29,113.84 L422.58,113.19 L422.88,112.53 L423.18,111.88 L423.50,111.24 L423.82,110.60 L424.15,109.96 L424.49,109.33 L424.84,108.71 L425.19,108.09 L425.56,107.47 L425.93,106.86 L426.31,106.26 L426.71,105.66 L427.11,105.06 L427.52,104.48 L427.94,103.89 L428.38,103.32 L428.82,102.75 L429.28,102.19 L429.74,101.63 L430.22,101.08 L430.71,100.54 L431.21,100.00 L431.72,99.47 L432.25,98.95 L432.79,98.44 L433.33,97.94 L433.89,97.45 L434.46,96.97 L435.04,96.51 L435.63,96.06 L436.23,95.64 L436.83,95.23 L437.44,94.85 L438.05,94.49 L438.68,94.16 L439.30,93.86 L439.93,93.58 L440.57,93.34 L441.20,93.13 L441.84,92.96 L442.48,92.82 L443.12,92.73 L443.76,92.67 L444.40,92.65 L445.04,92.67 L445.67,92.73 L446.30,92.83 L446.93,92.96 L447.55,93.13 L448.16,93.33 L448.76,93.57 L449.36,93.83 L449.95,94.13 L450.53,94.46 L451.09,94.82 L451.65,95.21 L452.19,95.62 L452.71,96.06 L453.23,96.53 L453.73,97.02 L454.23,97.53 L454.71,98.06 L455.19,98.60 L455.66,99.17 L456.12,99.75 L456.57,100.34 L457.02,100.94 L457.47,101.55 L457.91,102.17 L458.35,102.80 L458.79,103.43 L459.22,104.07 L459.66,104.70 L460.09,105.34 L460.53,105.97 L460.97,106.61 L461.41,107.23 L461.85,107.85 L462.30,108.46 L462.76,109.06 L463.22,109.65 L463.69,110.23 L464.16,110.80 L464.63,111.36 L465.12,111.91 L465.60,112.45 L466.09,112.99 L466.58,113.51 L467.08,114.03 L467.58,114.55 L468.08,115.06 L468.58,115.56 L469.09,116.06 L469.59,116.56 L470.10,117.06 L470.61,117.55 L471.12,118.04 L471.62,118.53 L472.13,119.02 L472.64,119.50 L473.15,119.99 L473.65,120.48 L474.16,120.97 L474.66,121.47 L475.16,121.97 L475.65,122.46 L476.15,122.97 L476.64,123.47 L477.14,123.98 L477.62,124.49 L478.11,125.00 L478.60,125.51 L479.08,126.03 L479.56,126.55 L480.05,127.07 L480.52,127.59 L481.00,128.11 L481.48,128.64 L481.95,129.17 L482.43,129.70 L482.90,130.23 L483.37,130.76 L483.84,131.30 L484.30,131.83 L484.77,132.37 L485.24,132.91 L485.70,133.45 L486.16,134.00 L486.63,134.54 L487.09,135.09 L487.55,135.63 L488.01,136.18 L488.47,136.73 L488.92,137.28 L489.38,137.83 L489.84,138.38 L490.29,138.94 L490.75,139.49 L491.20,140.04 L491.66,140.60 L492.11,141.16 L492.57,141.71 L493.02,142.27 L493.47,142.83 L493.93,143.39 L494.38,143.95 L494.83,144.51 L495.28,145.07 L495.74,145.63 L496.19,146.19 L496.64,146.75 L497.09,147.31 L497.55,147.87 L498.00,148.43 L498.45,148.99 L498.91,149.55 L499.36,150.11 L499.81,150.67 L500.27,151.23 L500.72,151.79 L501.18,152.35 L501.64,152.91 L502.09,153.46 L502.55,154.02 L503.01,154.58 L503.47,155.14 L503.93,155.69 L504.39,156.25 L504.85,156.80 L505.32,157.35 L505.78,157.91 L506.25,158.46 L506.71,159.01 L507.18,159.56 L507.65,160.11 L508.12,160.65 L508.59,161.20 L509.06,161.75 L509.54,162.29 L510.01,162.83 L510.49,163.37 L510.97,163.91 L511.45,164.45 L511.93,164.98 L512.41,165.52 L512.90,166.05 L513.39,166.58 L513.88,167.11 L514.37,167.63 L514.86,168.16 L515.36,168.68 L515.86,169.19 L516.36,169.70 L516.87,170.21 L517.38,170.72 L517.89,171.22 L518.40,171.71 L518.92,172.20 L519.44,172.69 L519.97,173.17 L520.50,173.64 L521.04,174.11 L521.57,174.57 L522.12,175.03 L522.67,175.47 L523.22,175.92 L523.78,176.35 L524.34,176.78 L524.90,177.19 L525.48,177.60 L526.06,178.01 L526.64,178.40 L527.23,178.78 L527.82,179.16 L528.43,179.53 L529.03,179.88 L529.65,180.23 L530.27,180.56 L530.89,180.89 L531.53,181.21 L532.16,181.52 L532.81,181.82 L533.45,182.11 L534.11,182.39 L534.77,182.67 L535.43,182.94 L536.10,183.20 L536.77,183.45 L537.44,183.70 L538.12,183.93 L538.81,184.17 L539.49,184.39 L540.18,184.61 L540.88,184.83 L541.58,185.04 L542.28,185.24 L542.98,185.44 L543.68,185.64 L544.39,185.83 L545.10,186.02 L545.81,186.20 L546.52,186.38 L547.24,186.56 L547.96,186.73 L548.67,186.90 L549.39,187.07 L550.11,187.23 L550.83,187.40 L551.55,187.56 L552.27,187.72 L552.99,187.88 L553.71,188.03 L554.43,188.19 L555.15,188.35 L555.87,188.50 L556.59,188.66 L557.31,188.82 L558.02,188.97 L558.74,189.13 L559.45,189.29 L560.16,189.45 L560.87,189.62 L561.58,189.78 L562.28,189.95 L562.99,190.11 L563.69,190.29 L564.38,190.46 L565.08,190.64 L565.77,190.82 L566.45,191.00 L567.14,191.19 L567.82,191.38 L568.49,191.58 L569.16,191.78 L569.83,191.99 L570.49,192.20 L571.15,192.42 L571.81,192.64 L572.45,192.87 L573.10,193.11 L573.73,193.35 L574.37,193.60" fill="none" stroke="#E9A20E" stroke-width="1.20" stroke-linejoin="round" stroke-linecap="round"/>
<path d="M399.09,193.94 L399.31,193.24 L399.52,192.55 L399.73,191.85 L399.94,191.16 L400.15,190.46 L400.35,189.76 L400.56,189.06 L400.76,188.36 L400.96,187.66 L401.16,186.95 L401.36,186.25 L401.56,185.54 L401.75,184.84 L401.94,184.13 L402.14,183.42 L402.33,182.71 L402.52,182.00 L402.71,181.29 L402.90,180.58 L403.08,179.87 L403.27,179.16 L403.45,178.44 L403.63,177.73 L403.82,177.02 L404.00,176.30 L404.18,175.58 L404.36,174.87 L404.54,174.15 L404.71,173.43 L404.89,172.72 L405.07,172.00 L405.24,171.28 L405.42,170.56 L405.59,169.84 L405.76,169.12 L405.93,168.40 L406.11,167.68 L406.28,166.96 L406.45,166.24 L406.62,165.52 L406.79,164.80 L406.96,164.08 L407.13,163.36 L407.30,162.64 L407.47,161.92 L407.63,161.20 L407.80,160.48 L407.97,159.76 L408.14,159.04 L408.30,158.32 L408.47,157.60 L408.64,156.87 L408.81,156.15 L408.97,155.43 L409.14,154.72 L409.31,154.00 L409.48,153.28 L409.64,152.56 L409.81,151.84 L409.98,151.12 L410.15,150.40 L410.32,149.69 L410.48,148.97 L410.65,148.25 L410.82,147.54 L410.99,146.82 L411.16,146.11 L411.34,145.40 L411.51,144.68 L411.68,143.97 L411.85,143.26 L412.02,142.55 L412.20,141.84 L412.37,141.13 L412.55,140.42 L412.72,139.71 L412.90,139.00 L413.08,138.30 L413.25,137.59 L413.43,136.88 L413.61,136.18 L413.79,135.47 L413.97,134.77 L414.15,134.06 L414.33,133.36 L414.51,132.65 L414.68,131.95 L414.86,131.24 L415.04,130.54 L415.22,129.83 L415.40,129.13 L415.58,128.42 L415.76,127.71 L415.94,127.01 L416.12,126.30 L416.29,125.59 L416.47,124.88 L416.65,124.17 L416.82,123.46 L417.00,122.75 L417.18,122.04 L417.35,121.33 L417.52,120.61 L417.70,119.90 L417.87,119.18 L418.04,118.47 L418.21,117.75 L418.38,117.03 L418.55,116.30 L418.72,115.58 L418.88,114.86 L419.05,114.13 L419.21,113.40 L419.37,112.67 L419.54,111.94 L419.70,111.21 L419.85,110.47 L420.01,109.73 L420.17,108.99 L420.32,108.25 L420.48,107.51 L420.64,106.77 L420.80,106.03 L420.97,105.29 L421.13,104.55 L421.31,103.82 L421.48,103.08 L421.67,102.35 L421.86,101.62 L422.06,100.90 L422.27,100.18 L422.48,99.47 L422.71,98.76 L422.95,98.05 L423.20,97.35 L423.46,96.66 L423.73,95.98 L424.02,95.30 L424.32,94.63 L424.64,93.97 L424.97,93.32 L425.32,92.68 L425.69,92.05 L426.08,91.43 L426.49,90.82 L426.91,90.22 L427.36,89.64 L427.83,89.06 L428.32,88.50 L428.83,87.96 L429.37,87.42 L429.93,86.91 L430.51,86.41 L431.11,85.93 L431.73,85.47 L432.37,85.04 L433.01,84.64 L433.67,84.26 L434.34,83.93 L435.02,83.62 L435.70,83.36 L436.38,83.14 L437.06,82.97 L437.75,82.84 L438.42,82.76 L439.10,82.74 L439.76,82.77 L440.42,82.86 L441.06,82.99 L441.70,83.18 L442.33,83.41 L442.95,83.69 L443.56,84.00 L444.16,84.35 L444.76,84.73 L445.35,85.13 L445.93,85.56 L446.50,86.02 L447.07,86.49 L447.63,86.97 L448.18,87.47 L448.72,87.97 L449.26,88.48 L449.80,89.00 L450.32,89.51 L450.84,90.04 L451.35,90.57 L451.86,91.10 L452.36,91.64 L452.86,92.18 L453.35,92.72 L453.83,93.27 L454.31,93.83 L454.79,94.39 L455.26,94.95 L455.72,95.52 L456.18,96.09 L456.64,96.66 L457.09,97.24 L457.54,97.82 L457.98,98.40 L458.42,98.99 L458.85,99.58 L459.29,100.17 L459.71,100.77 L460.14,101.36 L460.56,101.96 L460.98,102.57 L461.39,103.17 L461.80,103.78 L462.21,104.39 L462.62,105.01 L463.02,105.62 L463.42,106.24 L463.82,106.86 L464.22,107.48 L464.61,108.10 L465.01,108.72 L465.40,109.35 L465.79,109.97 L466.18,110.60 L466.56,111.23 L466.95,111.86 L467.34,112.49 L467.72,113.12 L468.10,113.75 L468.49,114.39 L468.87,115.02 L469.25,115.65 L469.63,116.29 L470.02,116.92 L470.40,117.55 L470.78,118.19 L471.16,118.82 L471.55,119.46 L471.93,120.09 L472.32,120.72 L472.70,121.35 L473.09,121.99 L473.48,122.62 L473.87,123.25 L474.26,123.88 L474.65,124.51 L475.04,125.13 L475.44,125.76 L475.83,126.39 L476.23,127.01 L476.63,127.64 L477.03,128.26 L477.43,128.88 L477.83,129.50 L478.24,130.12 L478.64,130.74 L479.05,131.36 L479.46,131.98 L479.87,132.60 L480.28,133.21 L480.69,133.83 L481.10,134.44 L481.52,135.05 L481.93,135.66 L482.35,136.27 L482.77,136.88 L483.19,137.49 L483.62,138.09 L484.04,138.70 L484.47,139.30 L484.90,139.90 L485.33,140.50 L485.76,141.10 L486.19,141.70 L486.63,142.30 L487.06,142.89 L487.50,143.48 L487.94,144.08 L488.38,144.67 L488.83,145.26 L489.27,145.84 L489.72,146.43 L490.17,147.01 L490.62,147.60 L491.07,148.18 L491.52,148.76 L491.98,149.34 L492.44,149.91 L492.90,150.49 L493.36,151.06 L493.82,151.63 L494.29,152.20 L494.76,152.77 L495.23,153.33 L495.70,153.90 L496.17,154.46 L496.65,155.02 L497.13,155.58 L497.61,156.13 L498.09,156.69 L498.58,157.24 L499.06,157.79 L499.55,158.34 L500.04,158.88 L500.53,159.43 L501.03,159.97 L501.53,160.51 L502.03,161.05 L502.53,161.58 L503.03,162.12 L503.54,162.65 L504.05,163.18 L504.56,163.70 L505.07,164.23 L505.59,164.75 L506.10,165.27 L506.63,165.79 L507.15,166.31 L507.67,166.82 L508.20,167.33 L508.73,167.84 L509.26,168.35 L509.80,168.85 L510.33,169.35 L510.87,169.85 L511.42,170.35 L511.96,170.84 L512.51,171.33 L513.06,171.82 L513.61,172.30 L514.17,172.79 L514.72,173.27 L515.28,173.74 L515.85,174.22 L516.41,174.69 L516.98,175.15 L517.55,175.62 L518.12,176.08 L518.70,176.53 L519.28,176.98 L519.86,177.43 L520.45,177.88 L521.03,178.32 L521.62,178.75 L522.22,179.18 L522.81,179.61 L523.41,180.03 L524.01,180.45 L524.62,180.86 L525.23,181.27 L525.84,181.67 L526.45,182.07 L527.07,182.46 L527.68,182.85 L528.31,183.23 L528.93,183.61 L529.56,183.98 L530.19,184.35 L530.83,184.71 L531.46,185.06 L532.11,185.41 L532.75,185.75 L533.40,186.09 L534.05,186.42 L534.70,186.74 L535.36,187.05 L536.02,187.36 L536.68,187.67 L537.34,187.96 L538.01,188.25 L538.69,188.54 L539.36,188.81 L540.04,189.08 L540.73,189.34 L541.41,189.59 L542.10,189.84 L542.79,190.08 L543.49,190.31 L544.19,190.53 L544.89,190.75 L545.60,190.95 L546.31,191.15 L547.02,191.34 L547.74,191.52 L548.46,191.70 L549.18,191.86 L549.91,192.02 L550.64,192.17 L551.38,192.31 L552.12,192.44 L552.86,192.56 L553.60,192.67 L554.35,192.77 L555.11,192.86 L555.86,192.95 L556.62,193.02 L557.39,193.09 L558.16,193.14 L558.93,193.19 L559.70,193.22 L560.48,193.24 L561.27,193.26" fill="none" stroke="#111" stroke-width="1.20" stroke-linejoin="round" stroke-linecap="round"/>
<line x1="566.90" y1="27.75" x2="575.30" y2="27.75" stroke="#2a2a2a" stroke-width="1.80"/>
<text transform="translate(577.30,29.95) rotate(0.050) scale(1,1.040)" font-size="7.20" text-anchor="start" fill="#1a1a1a">WT dimer</text>
<line x1="566.90" y1="38.85" x2="575.30" y2="38.85" stroke="#EBB040" stroke-width="1.80"/>
<text transform="translate(577.30,41.05) rotate(0.050) scale(1,1.040)" font-size="7.20" text-anchor="start" fill="#1a1a1a">N188D/N214D dimer</text>
<line x1="566.90" y1="49.95" x2="575.30" y2="49.95" stroke="#3F95CC" stroke-width="1.80"/>
<text transform="translate(577.30,52.15) rotate(0.050) scale(1,1.040)" font-size="7.20" text-anchor="start" fill="#1a1a1a">V122P/V123P dimer</text>
<text transform="translate(10.80,257.80) rotate(0.05)" font-size="10.8" font-weight="bold" fill="#000">C)</text>
<line x1="63.39" y1="267.95" x2="329.51" y2="267.95" stroke="#000" stroke-width="1.90"/>
<line x1="63.39" y1="443.95" x2="329.51" y2="443.95" stroke="#000" stroke-width="1.90"/>
<line x1="64.26" y1="267.00" x2="64.26" y2="444.90" stroke="#000" stroke-width="1.75"/>
<line x1="328.64" y1="267.00" x2="328.64" y2="444.90" stroke="#000" stroke-width="1.75"/>
<line x1="60.96" y1="443.95" x2="64.26" y2="443.95" stroke="#000" stroke-width="1.90"/>
<text transform="translate(59.36,446.40) rotate(0.050) scale(1,1.040)" font-size="7.50" text-anchor="end" fill="#1a1a1a">0.0000</text>
<line x1="60.96" y1="399.95" x2="64.26" y2="399.95" stroke="#000" stroke-width="1.90"/>
<text transform="translate(59.36,402.40) rotate(0.050) scale(1,1.040)" font-size="7.50" text-anchor="end" fill="#1a1a1a">0.0005</text>
<line x1="60.96" y1="355.95" x2="64.26" y2="355.95" stroke="#000" stroke-width="1.90"/>
<text transform="translate(59.36,358.40) rotate(0.050) scale(1,1.040)" font-size="7.50" text-anchor="end" fill="#1a1a1a">0.0010</text>
<line x1="60.96" y1="311.95" x2="64.26" y2="311.95" stroke="#000" stroke-width="1.90"/>
<text transform="translate(59.36,314.40) rotate(0.050) scale(1,1.040)" font-size="7.50" text-anchor="end" fill="#1a1a1a">0.0015</text>
<line x1="60.96" y1="267.95" x2="64.26" y2="267.95" stroke="#000" stroke-width="1.90"/>
<text transform="translate(59.36,270.40) rotate(0.050) scale(1,1.040)" font-size="7.50" text-anchor="end" fill="#1a1a1a">0.0020</text>
<line x1="64.26" y1="443.95" x2="64.26" y2="447.45" stroke="#000" stroke-width="1.75"/>
<text transform="translate(64.26,455.80) rotate(0.050) scale(1,1.040)" font-size="7.50" text-anchor="middle" fill="#1a1a1a">0</text>
<line x1="108.32" y1="443.95" x2="108.32" y2="447.45" stroke="#000" stroke-width="1.75"/>
<text transform="translate(108.32,455.80) rotate(0.050) scale(1,1.040)" font-size="7.50" text-anchor="middle" fill="#1a1a1a">25</text>
<line x1="152.39" y1="443.95" x2="152.39" y2="447.45" stroke="#000" stroke-width="1.75"/>
<text transform="translate(152.39,455.80) rotate(0.050) scale(1,1.040)" font-size="7.50" text-anchor="middle" fill="#1a1a1a">50</text>
<line x1="196.45" y1="443.95" x2="196.45" y2="447.45" stroke="#000" stroke-width="1.75"/>
<text transform="translate(196.45,455.80) rotate(0.050) scale(1,1.040)" font-size="7.50" text-anchor="middle" fill="#1a1a1a">75</text>
<line x1="240.51" y1="443.95" x2="240.51" y2="447.45" stroke="#000" stroke-width="1.75"/>
<text transform="translate(240.51,455.80) rotate(0.050) scale(1,1.040)" font-size="7.50" text-anchor="middle" fill="#1a1a1a">100</text>
<line x1="284.58" y1="443.95" x2="284.58" y2="447.45" stroke="#000" stroke-width="1.75"/>
<text transform="translate(284.58,455.80) rotate(0.050) scale(1,1.040)" font-size="7.50" text-anchor="middle" fill="#1a1a1a">125</text>
<line x1="328.64" y1="443.95" x2="328.64" y2="447.45" stroke="#000" stroke-width="1.75"/>
<text transform="translate(328.64,455.80) rotate(0.050) scale(1,1.040)" font-size="7.50" text-anchor="middle" fill="#1a1a1a">150</text>
<text transform="translate(196.45,470.45) rotate(0.05)" font-size="9.60" font-weight="bold" text-anchor="middle" fill="#1a1a1a">r (&#197;)</text>
<text transform="translate(15.96,355.95) rotate(-89.95)" font-size="9.30" font-weight="bold" text-anchor="middle" fill="#1a1a1a">P(r)/I(0)</text>
<path d="M64.19,443.94 L64.65,443.17 L65.10,442.39 L65.55,441.61 L65.99,440.83 L66.43,440.05 L66.85,439.26 L67.27,438.47 L67.69,437.68 L68.10,436.88 L68.50,436.09 L68.90,435.29 L69.29,434.49 L69.67,433.68 L70.05,432.88 L70.42,432.07 L70.79,431.26 L71.15,430.45 L71.51,429.63 L71.86,428.82 L72.21,428.00 L72.55,427.18 L72.89,426.36 L73.22,425.54 L73.55,424.71 L73.88,423.88 L74.20,423.06 L74.51,422.23 L74.83,421.40 L75.14,420.56 L75.44,419.73 L75.74,418.89 L76.04,418.06 L76.33,417.22 L76.63,416.38 L76.91,415.54 L77.20,414.70 L77.48,413.85 L77.76,413.01 L78.04,412.16 L78.31,411.32 L78.58,410.47 L78.85,409.62 L79.12,408.77 L79.39,407.92 L79.65,407.07 L79.91,406.22 L80.17,405.37 L80.43,404.52 L80.69,403.67 L80.95,402.82 L81.20,401.96 L81.45,401.11 L81.71,400.25 L81.96,399.40 L82.21,398.54 L82.46,397.69 L82.71,396.83 L82.96,395.98 L83.21,395.12 L83.46,394.27 L83.71,393.41 L83.96,392.56 L84.21,391.70 L84.46,390.85 L84.71,389.99 L84.97,389.14 L85.22,388.28 L85.47,387.43 L85.73,386.58 L85.98,385.72 L86.24,384.87 L86.50,384.02 L86.76,383.17 L87.02,382.32 L87.28,381.47 L87.55,380.62 L87.82,379.77 L88.09,378.92 L88.36,378.07 L88.63,377.23 L88.91,376.38 L89.19,375.54 L89.47,374.70 L89.75,373.85 L90.04,373.01 L90.33,372.17 L90.63,371.33 L90.92,370.50 L91.22,369.66 L91.53,368.83 L91.84,367.99 L92.15,367.16 L92.46,366.33 L92.78,365.50 L93.11,364.68 L93.44,363.85 L93.77,363.03 L94.10,362.21 L94.45,361.39 L94.79,360.57 L95.14,359.75 L95.50,358.94 L95.86,358.13 L96.23,357.32 L96.61,356.51 L96.99,355.71 L97.38,354.91 L97.78,354.12 L98.19,353.33 L98.61,352.55 L99.04,351.77 L99.48,351.00 L99.93,350.23 L100.39,349.47 L100.86,348.71 L101.35,347.97 L101.85,347.23 L102.37,346.50 L102.90,345.78 L103.45,345.06 L104.01,344.36 L104.59,343.67 L105.18,342.98 L105.79,342.31 L106.42,341.64 L107.07,340.99 L107.74,340.35 L108.43,339.72 L109.13,339.11 L109.85,338.51 L110.59,337.93 L111.33,337.37 L112.10,336.84 L112.87,336.32 L113.65,335.84 L114.44,335.38 L115.24,334.94 L116.05,334.54 L116.87,334.18 L117.68,333.85 L118.51,333.55 L119.33,333.29 L120.16,333.08 L120.98,332.90 L121.81,332.77 L122.63,332.68 L123.45,332.62 L124.28,332.61 L125.10,332.64 L125.92,332.70 L126.73,332.80 L127.55,332.93 L128.36,333.09 L129.17,333.29 L129.98,333.51 L130.79,333.77 L131.59,334.05 L132.39,334.36 L133.19,334.69 L133.99,335.05 L134.78,335.43 L135.56,335.83 L136.35,336.25 L137.13,336.69 L137.90,337.15 L138.67,337.63 L139.44,338.12 L140.20,338.62 L140.96,339.14 L141.71,339.67 L142.46,340.21 L143.20,340.76 L143.93,341.31 L144.66,341.88 L145.39,342.44 L146.10,343.02 L146.82,343.59 L147.52,344.17 L148.22,344.75 L148.92,345.34 L149.60,345.92 L150.29,346.52 L150.97,347.11 L151.64,347.71 L152.31,348.31 L152.97,348.91 L153.63,349.51 L154.29,350.12 L154.94,350.73 L155.59,351.34 L156.23,351.95 L156.87,352.57 L157.51,353.19 L158.14,353.81 L158.77,354.43 L159.40,355.05 L160.02,355.68 L160.65,356.31 L161.27,356.94 L161.88,357.57 L162.50,358.20 L163.11,358.83 L163.72,359.46 L164.33,360.10 L164.94,360.73 L165.55,361.37 L166.15,362.01 L166.76,362.65 L167.36,363.29 L167.97,363.93 L168.57,364.57 L169.17,365.21 L169.78,365.85 L170.38,366.49 L170.98,367.13 L171.59,367.77 L172.19,368.42 L172.80,369.06 L173.40,369.70 L174.01,370.34 L174.61,370.98 L175.22,371.62 L175.83,372.26 L176.44,372.90 L177.05,373.54 L177.66,374.18 L178.27,374.82 L178.88,375.46 L179.50,376.10 L180.11,376.74 L180.73,377.38 L181.34,378.01 L181.96,378.65 L182.58,379.29 L183.20,379.92 L183.82,380.55 L184.44,381.19 L185.06,381.82 L185.68,382.45 L186.31,383.08 L186.93,383.71 L187.56,384.34 L188.19,384.97 L188.82,385.59 L189.45,386.22 L190.08,386.84 L190.72,387.47 L191.35,388.09 L191.99,388.71 L192.62,389.33 L193.26,389.95 L193.90,390.56 L194.54,391.18 L195.19,391.79 L195.83,392.40 L196.48,393.02 L197.12,393.62 L197.77,394.23 L198.42,394.84 L199.08,395.44 L199.73,396.04 L200.38,396.65 L201.04,397.24 L201.70,397.84 L202.36,398.44 L203.02,399.03 L203.69,399.62 L204.35,400.21 L205.02,400.80 L205.69,401.38 L206.36,401.96 L207.03,402.55 L207.71,403.12 L208.38,403.70 L209.06,404.27 L209.74,404.84 L210.42,405.41 L211.11,405.98 L211.79,406.54 L212.48,407.10 L213.17,407.66 L213.86,408.22 L214.56,408.77 L215.26,409.32 L215.95,409.87 L216.66,410.41 L217.36,410.95 L218.06,411.49 L218.77,412.02 L219.48,412.55 L220.19,413.08 L220.91,413.60 L221.63,414.12 L222.34,414.64 L223.07,415.15 L223.79,415.66 L224.52,416.17 L225.25,416.67 L225.98,417.17 L226.71,417.66 L227.45,418.16 L228.19,418.64 L228.93,419.12 L229.67,419.60 L230.42,420.08 L231.17,420.55 L231.92,421.01 L232.67,421.48 L233.43,421.93 L234.19,422.38 L234.95,422.83 L235.72,423.28 L236.49,423.72 L237.26,424.15 L238.03,424.58 L238.81,425.00 L239.59,425.42 L240.37,425.84 L241.16,426.25 L241.95,426.65 L242.74,427.05 L243.53,427.45 L244.33,427.84 L245.13,428.22 L245.93,428.60 L246.73,428.98 L247.54,429.35 L248.35,429.72 L249.16,430.08 L249.98,430.43 L250.79,430.79 L251.61,431.13 L252.43,431.47 L253.26,431.81 L254.08,432.14 L254.91,432.47 L255.74,432.79 L256.57,433.11 L257.41,433.42 L258.24,433.73 L259.08,434.03 L259.92,434.33 L260.77,434.62 L261.61,434.91 L262.46,435.20 L263.30,435.48 L264.15,435.75 L265.00,436.02 L265.86,436.29 L266.71,436.55 L267.57,436.80 L268.42,437.05 L269.28,437.30 L270.14,437.54 L271.00,437.78 L271.87,438.01 L272.73,438.23 L273.60,438.46 L274.46,438.68 L275.33,438.89 L276.20,439.10 L277.07,439.30 L277.94,439.50 L278.82,439.69 L279.69,439.88 L280.56,440.07 L281.44,440.25 L282.32,440.43 L283.19,440.60 L284.07,440.76 L284.95,440.93 L285.83,441.08 L286.71,441.24 L287.59,441.38 L288.47,441.53 L289.35,441.67 L290.23,441.80 L291.12,441.93 L292.00,442.06 L292.88,442.18 L293.77,442.29 L294.65,442.41 L295.54,442.51 L296.42,442.61 L297.31,442.71 L298.19,442.81 L299.08,442.90 L299.96,442.98 L300.85,443.06 L301.73,443.14 L302.62,443.21 L303.50,443.27 L304.39,443.34 L305.27,443.39 L306.15,443.45 L307.04,443.49 L307.92,443.54 L308.81,443.58 L309.69,443.61" fill="none" stroke="#A8A8A8" stroke-width="1.15" stroke-linejoin="round" stroke-linecap="round"/>
<path d="M63.89,443.85 L64.15,442.89 L64.41,441.93 L64.67,440.97 L64.92,440.01 L65.17,439.05 L65.42,438.08 L65.67,437.12 L65.91,436.16 L66.16,435.19 L66.40,434.23 L66.64,433.27 L66.88,432.30 L67.11,431.33 L67.35,430.37 L67.58,429.40 L67.81,428.43 L68.04,427.46 L68.27,426.50 L68.49,425.53 L68.72,424.56 L68.94,423.59 L69.16,422.62 L69.38,421.64 L69.60,420.67 L69.81,419.70 L70.03,418.73 L70.24,417.76 L70.45,416.78 L70.66,415.81 L70.87,414.83 L71.08,413.86 L71.29,412.88 L71.49,411.91 L71.69,410.93 L71.89,409.96 L72.10,408.98 L72.29,408.00 L72.49,407.02 L72.69,406.05 L72.88,405.07 L73.08,404.09 L73.27,403.11 L73.46,402.13 L73.65,401.15 L73.84,400.17 L74.03,399.19 L74.22,398.21 L74.41,397.23 L74.59,396.25 L74.78,395.27 L74.96,394.29 L75.15,393.31 L75.33,392.33 L75.51,391.35 L75.69,390.37 L75.87,389.38 L76.05,388.40 L76.23,387.42 L76.40,386.44 L76.58,385.45 L76.76,384.47 L76.93,383.49 L77.11,382.50 L77.28,381.52 L77.45,380.54 L77.62,379.55 L77.80,378.57 L77.97,377.59 L78.14,376.60 L78.31,375.62 L78.48,374.64 L78.65,373.65 L78.82,372.67 L78.99,371.69 L79.16,370.70 L79.33,369.72 L79.49,368.73 L79.66,367.75 L79.83,366.77 L80.00,365.78 L80.16,364.80 L80.33,363.81 L80.50,362.83 L80.66,361.85 L80.83,360.86 L80.99,359.88 L81.16,358.90 L81.33,357.91 L81.49,356.93 L81.66,355.95 L81.82,354.96 L81.99,353.98 L82.16,353.00 L82.32,352.02 L82.49,351.03 L82.66,350.05 L82.82,349.07 L82.99,348.09 L83.16,347.11 L83.32,346.12 L83.49,345.14 L83.66,344.16 L83.83,343.18 L84.00,342.20 L84.16,341.22 L84.33,340.24 L84.50,339.26 L84.67,338.28 L84.84,337.30 L85.01,336.32 L85.19,335.35 L85.36,334.37 L85.53,333.39 L85.70,332.41 L85.88,331.43 L86.05,330.46 L86.23,329.48 L86.40,328.50 L86.58,327.53 L86.75,326.55 L86.93,325.58 L87.11,324.60 L87.29,323.63 L87.47,322.66 L87.65,321.68 L87.83,320.71 L88.02,319.74 L88.20,318.77 L88.38,317.79 L88.57,316.82 L88.75,315.85 L88.94,314.88 L89.13,313.91 L89.32,312.94 L89.51,311.98 L89.70,311.01 L89.90,310.04 L90.09,309.07 L90.28,308.11 L90.48,307.14 L90.68,306.17 L90.88,305.21 L91.09,304.24 L91.30,303.28 L91.51,302.31 L91.73,301.35 L91.96,300.38 L92.19,299.41 L92.43,298.45 L92.67,297.48 L92.93,296.51 L93.19,295.54 L93.46,294.57 L93.74,293.60 L94.02,292.63 L94.32,291.65 L94.63,290.68 L94.95,289.70 L95.29,288.73 L95.63,287.75 L95.99,286.76 L96.36,285.78 L96.74,284.80 L97.14,283.81 L97.56,282.82 L97.99,281.84 L98.44,280.88 L98.91,279.93 L99.41,279.02 L99.92,278.13 L100.47,277.29 L101.04,276.50 L101.65,275.77 L102.28,275.10 L102.95,274.50 L103.65,273.98 L104.40,273.55 L105.18,273.20 L106.00,272.96 L106.86,272.82 L107.75,272.77 L108.66,272.80 L109.58,272.93 L110.51,273.14 L111.44,273.42 L112.36,273.77 L113.26,274.19 L114.13,274.67 L114.97,275.20 L115.78,275.79 L116.55,276.42 L117.29,277.10 L118.01,277.82 L118.70,278.56 L119.36,279.34 L120.01,280.14 L120.63,280.96 L121.25,281.79 L121.84,282.63 L122.43,283.47 L123.01,284.32 L123.57,285.18 L124.13,286.03 L124.67,286.89 L125.21,287.75 L125.73,288.62 L126.25,289.48 L126.76,290.36 L127.26,291.23 L127.75,292.11 L128.23,292.98 L128.70,293.87 L129.17,294.75 L129.62,295.64 L130.07,296.53 L130.51,297.42 L130.95,298.32 L131.37,299.21 L131.79,300.11 L132.20,301.02 L132.61,301.92 L133.01,302.83 L133.40,303.74 L133.79,304.65 L134.16,305.56 L134.54,306.48 L134.91,307.40 L135.27,308.32 L135.63,309.24 L135.98,310.16 L136.32,311.09 L136.67,312.02 L137.00,312.94 L137.33,313.88 L137.66,314.81 L137.99,315.74 L138.31,316.68 L138.62,317.62 L138.94,318.56 L139.25,319.50 L139.55,320.44 L139.85,321.38 L140.15,322.33 L140.45,323.28 L140.75,324.22 L141.04,325.17 L141.33,326.12 L141.62,327.07 L141.90,328.03 L142.19,328.98 L142.47,329.93 L142.75,330.89 L143.03,331.84 L143.30,332.80 L143.58,333.76 L143.85,334.71 L144.13,335.67 L144.40,336.63 L144.67,337.59 L144.94,338.55 L145.21,339.51 L145.48,340.47 L145.75,341.43 L146.01,342.38 L146.28,343.34 L146.55,344.30 L146.81,345.26 L147.08,346.22 L147.35,347.18 L147.61,348.14 L147.88,349.09 L148.15,350.05 L148.41,351.01 L148.68,351.96 L148.95,352.92 L149.22,353.87 L149.49,354.82 L149.76,355.78 L150.03,356.73 L150.31,357.68 L150.58,358.63 L150.86,359.57 L151.14,360.52 L151.42,361.47 L151.70,362.41 L151.98,363.35 L152.27,364.29 L152.55,365.23 L152.84,366.17 L153.13,367.10 L153.43,368.04 L153.72,368.97 L154.02,369.90 L154.32,370.83 L154.63,371.76 L154.93,372.69 L155.24,373.61 L155.55,374.54 L155.87,375.46 L156.18,376.39 L156.50,377.31 L156.82,378.23 L157.15,379.16 L157.47,380.08 L157.80,381.00 L158.14,381.93 L158.47,382.85 L158.81,383.78 L159.15,384.70 L159.50,385.63 L159.84,386.55 L160.19,387.48 L160.55,388.41 L160.90,389.34 L161.26,390.27 L161.62,391.20 L161.99,392.14 L162.36,393.08 L162.73,394.02 L163.10,394.96 L163.48,395.90 L163.86,396.84 L164.25,397.79 L164.64,398.73 L165.04,399.68 L165.44,400.62 L165.85,401.57 L166.26,402.51 L166.68,403.44 L167.11,404.38 L167.54,405.31 L167.98,406.23 L168.43,407.15 L168.89,408.06 L169.36,408.96 L169.84,409.86 L170.33,410.74 L170.83,411.62 L171.34,412.49 L171.86,413.35 L172.40,414.19 L172.94,415.02 L173.50,415.85 L174.07,416.65 L174.66,417.45 L175.26,418.22 L175.88,418.99 L176.51,419.73 L177.15,420.46 L177.81,421.18 L178.49,421.87 L179.18,422.54 L179.89,423.20 L180.62,423.83 L181.37,424.45 L182.13,425.04 L182.91,425.62 L183.71,426.17 L184.52,426.71 L185.34,427.23 L186.18,427.74 L187.03,428.23 L187.90,428.70 L188.77,429.16 L189.66,429.61 L190.55,430.05 L191.46,430.47 L192.37,430.88 L193.29,431.29 L194.22,431.68 L195.16,432.07 L196.10,432.44 L197.04,432.81 L197.99,433.18 L198.94,433.54 L199.90,433.89 L200.86,434.25 L201.82,434.59 L202.78,434.94 L203.74,435.29 L204.69,435.63 L205.65,435.98 L206.60,436.32 L207.56,436.67 L208.50,437.02 L209.45,437.37 L210.38,437.73 L211.32,438.09 L212.24,438.46 L213.16,438.83 L214.07,439.22 L214.97,439.61 L215.86,440.01 L216.74,440.41 L217.61,440.83 L218.47,441.26 L219.31,441.70 L220.14,442.16 L220.96,442.63" fill="none" stroke="#111" stroke-width="1.40" stroke-linejoin="round" stroke-linecap="round"/>
<line x1="232.00" y1="278.35" x2="240.40" y2="278.35" stroke="#2a2a2a" stroke-width="1.60"/>
<text transform="translate(242.40,280.10) rotate(0.050) scale(1,1.040)" font-size="7.20" text-anchor="start" fill="#1a1a1a">WT monomer</text>
<line x1="232.00" y1="289.40" x2="240.40" y2="289.40" stroke="#BBBBBB" stroke-width="1.30"/>
<text transform="translate(242.40,291.15) rotate(0.050) scale(1,1.040)" font-size="7.20" text-anchor="start" fill="#1a1a1a">WT dimer</text>
<text transform="translate(345.40,257.80) rotate(0.05)" font-size="10.8" font-weight="bold" fill="#000">D)</text>
<line x1="398.12" y1="267.95" x2="664.13" y2="267.95" stroke="#000" stroke-width="1.90"/>
<line x1="398.12" y1="443.95" x2="664.13" y2="443.95" stroke="#000" stroke-width="1.90"/>
<line x1="399.00" y1="267.00" x2="399.00" y2="444.90" stroke="#000" stroke-width="1.75"/>
<line x1="663.26" y1="267.00" x2="663.26" y2="444.90" stroke="#000" stroke-width="1.75"/>
<line x1="395.70" y1="443.95" x2="399.00" y2="443.95" stroke="#000" stroke-width="1.90"/>
<text transform="translate(394.10,446.40) rotate(0.050) scale(1,1.040)" font-size="7.50" text-anchor="end" fill="#1a1a1a">0.0000</text>
<line x1="395.70" y1="399.95" x2="399.00" y2="399.95" stroke="#000" stroke-width="1.90"/>
<text transform="translate(394.10,402.40) rotate(0.050) scale(1,1.040)" font-size="7.50" text-anchor="end" fill="#1a1a1a">0.0005</text>
<line x1="395.70" y1="355.95" x2="399.00" y2="355.95" stroke="#000" stroke-width="1.90"/>
<text transform="translate(394.10,358.40) rotate(0.050) scale(1,1.040)" font-size="7.50" text-anchor="end" fill="#1a1a1a">0.0010</text>
<line x1="395.70" y1="311.95" x2="399.00" y2="311.95" stroke="#000" stroke-width="1.90"/>
<text transform="translate(394.10,314.40) rotate(0.050) scale(1,1.040)" font-size="7.50" text-anchor="end" fill="#1a1a1a">0.0015</text>
<line x1="395.70" y1="267.95" x2="399.00" y2="267.95" stroke="#000" stroke-width="1.90"/>
<text transform="translate(394.10,270.40) rotate(0.050) scale(1,1.040)" font-size="7.50" text-anchor="end" fill="#1a1a1a">0.0020</text>
<line x1="399.00" y1="443.95" x2="399.00" y2="447.45" stroke="#000" stroke-width="1.75"/>
<text transform="translate(399.00,455.80) rotate(0.050) scale(1,1.040)" font-size="7.50" text-anchor="middle" fill="#1a1a1a">0</text>
<line x1="436.75" y1="443.95" x2="436.75" y2="447.45" stroke="#000" stroke-width="1.75"/>
<text transform="translate(436.75,455.80) rotate(0.050) scale(1,1.040)" font-size="7.50" text-anchor="middle" fill="#1a1a1a">25</text>
<line x1="474.50" y1="443.95" x2="474.50" y2="447.45" stroke="#000" stroke-width="1.75"/>
<text transform="translate(474.50,455.80) rotate(0.050) scale(1,1.040)" font-size="7.50" text-anchor="middle" fill="#1a1a1a">50</text>
<line x1="512.25" y1="443.95" x2="512.25" y2="447.45" stroke="#000" stroke-width="1.75"/>
<text transform="translate(512.25,455.80) rotate(0.050) scale(1,1.040)" font-size="7.50" text-anchor="middle" fill="#1a1a1a">75</text>
<line x1="550.01" y1="443.95" x2="550.01" y2="447.45" stroke="#000" stroke-width="1.75"/>
<text transform="translate(550.01,455.80) rotate(0.050) scale(1,1.040)" font-size="7.50" text-anchor="middle" fill="#1a1a1a">100</text>
<line x1="587.76" y1="443.95" x2="587.76" y2="447.45" stroke="#000" stroke-width="1.75"/>
<text transform="translate(587.76,455.80) rotate(0.050) scale(1,1.040)" font-size="7.50" text-anchor="middle" fill="#1a1a1a">125</text>
<line x1="625.51" y1="443.95" x2="625.51" y2="447.45" stroke="#000" stroke-width="1.75"/>
<text transform="translate(625.51,455.80) rotate(0.050) scale(1,1.040)" font-size="7.50" text-anchor="middle" fill="#1a1a1a">150</text>
<line x1="663.26" y1="443.95" x2="663.26" y2="447.45" stroke="#000" stroke-width="1.75"/>
<text transform="translate(663.26,455.80) rotate(0.050) scale(1,1.040)" font-size="7.50" text-anchor="middle" fill="#1a1a1a">175</text>
<text transform="translate(531.13,470.45) rotate(0.05)" font-size="9.60" font-weight="bold" text-anchor="middle" fill="#1a1a1a">r (&#197;)</text>
<text transform="translate(350.70,355.95) rotate(-89.95)" font-size="9.30" font-weight="bold" text-anchor="middle" fill="#1a1a1a">P(r)/I(0)</text>
<path d="M399.15,444.07 L399.61,443.39 L400.06,442.71 L400.49,442.02 L400.92,441.33 L401.34,440.64 L401.76,439.94 L402.16,439.23 L402.55,438.53 L402.94,437.82 L403.32,437.10 L403.69,436.39 L404.06,435.67 L404.41,434.94 L404.76,434.21 L405.10,433.48 L405.44,432.75 L405.77,432.01 L406.09,431.27 L406.41,430.53 L406.72,429.78 L407.02,429.04 L407.32,428.28 L407.62,427.53 L407.90,426.78 L408.19,426.02 L408.46,425.26 L408.74,424.50 L409.00,423.73 L409.27,422.97 L409.52,422.20 L409.78,421.43 L410.03,420.66 L410.28,419.88 L410.52,419.11 L410.76,418.33 L410.99,417.55 L411.23,416.77 L411.46,415.99 L411.68,415.21 L411.91,414.43 L412.13,413.65 L412.35,412.86 L412.57,412.08 L412.78,411.29 L413.00,410.51 L413.21,409.72 L413.42,408.93 L413.63,408.15 L413.84,407.36 L414.05,406.57 L414.25,405.78 L414.46,404.99 L414.67,404.21 L414.87,403.42 L415.08,402.63 L415.28,401.84 L415.49,401.06 L415.70,400.27 L415.90,399.49 L416.11,398.70 L416.32,397.92 L416.53,397.14 L416.74,396.35 L416.95,395.57 L417.17,394.79 L417.39,394.01 L417.60,393.24 L417.82,392.46 L418.05,391.68 L418.27,390.91 L418.50,390.14 L418.73,389.37 L418.97,388.60 L419.21,387.83 L419.45,387.06 L419.69,386.30 L419.94,385.54 L420.19,384.77 L420.45,384.01 L420.71,383.26 L420.97,382.50 L421.24,381.74 L421.51,380.99 L421.79,380.24 L422.08,379.49 L422.37,378.74 L422.66,377.99 L422.96,377.25 L423.27,376.51 L423.58,375.77 L423.89,375.03 L424.22,374.29 L424.55,373.56 L424.88,372.83 L425.23,372.10 L425.58,371.37 L425.94,370.64 L426.30,369.92 L426.67,369.20 L427.05,368.48 L427.44,367.76 L427.83,367.04 L428.24,366.33 L428.65,365.62 L429.07,364.91 L429.50,364.21 L429.93,363.51 L430.38,362.80 L430.83,362.11 L431.30,361.41 L431.77,360.72 L432.25,360.03 L432.75,359.34 L433.25,358.66 L433.76,357.97 L434.29,357.30 L434.82,356.62 L435.36,355.95 L435.91,355.29 L436.47,354.64 L437.04,353.99 L437.62,353.35 L438.20,352.73 L438.80,352.11 L439.40,351.51 L440.01,350.91 L440.63,350.34 L441.25,349.77 L441.88,349.22 L442.52,348.69 L443.17,348.18 L443.82,347.68 L444.48,347.21 L445.14,346.75 L445.81,346.32 L446.49,345.90 L447.17,345.51 L447.86,345.15 L448.55,344.80 L449.24,344.49 L449.95,344.20 L450.65,343.94 L451.36,343.70 L452.08,343.50 L452.80,343.32 L453.52,343.18 L454.24,343.07 L454.97,342.99 L455.70,342.95 L456.44,342.93 L457.17,342.95 L457.91,343.01 L458.65,343.09 L459.39,343.20 L460.13,343.34 L460.86,343.51 L461.60,343.71 L462.33,343.93 L463.07,344.18 L463.80,344.45 L464.52,344.75 L465.24,345.07 L465.96,345.41 L466.67,345.77 L467.38,346.15 L468.08,346.55 L468.78,346.96 L469.46,347.40 L470.15,347.85 L470.82,348.31 L471.49,348.79 L472.15,349.28 L472.81,349.78 L473.45,350.29 L474.10,350.80 L474.73,351.33 L475.36,351.86 L475.99,352.40 L476.61,352.95 L477.22,353.50 L477.84,354.06 L478.44,354.62 L479.05,355.19 L479.65,355.76 L480.24,356.34 L480.84,356.92 L481.43,357.50 L482.02,358.08 L482.61,358.66 L483.20,359.24 L483.79,359.83 L484.37,360.41 L484.96,360.99 L485.54,361.57 L486.13,362.15 L486.72,362.72 L487.31,363.29 L487.90,363.86 L488.49,364.42 L489.08,364.98 L489.68,365.53 L490.28,366.08 L490.87,366.62 L491.48,367.16 L492.08,367.69 L492.68,368.23 L493.29,368.76 L493.90,369.28 L494.50,369.81 L495.11,370.33 L495.72,370.85 L496.33,371.38 L496.94,371.90 L497.54,372.42 L498.15,372.94 L498.76,373.47 L499.37,373.99 L499.97,374.52 L500.58,375.04 L501.19,375.57 L501.79,376.10 L502.40,376.63 L503.00,377.15 L503.61,377.68 L504.21,378.21 L504.81,378.75 L505.42,379.28 L506.02,379.81 L506.62,380.34 L507.22,380.88 L507.83,381.41 L508.43,381.95 L509.03,382.48 L509.63,383.02 L510.23,383.56 L510.83,384.10 L511.43,384.64 L512.03,385.18 L512.63,385.72 L513.23,386.26 L513.83,386.80 L514.43,387.34 L515.02,387.89 L515.62,388.43 L516.22,388.98 L516.82,389.52 L517.41,390.07 L518.01,390.61 L518.61,391.16 L519.20,391.71 L519.80,392.26 L520.39,392.81 L520.99,393.36 L521.58,393.91 L522.18,394.46 L522.77,395.01 L523.37,395.57 L523.96,396.12 L524.56,396.67 L525.15,397.23 L525.74,397.78 L526.34,398.34 L526.93,398.90 L527.52,399.45 L528.12,400.01 L528.71,400.57 L529.30,401.13 L529.89,401.69 L530.48,402.25 L531.08,402.81 L531.67,403.37 L532.26,403.93 L532.85,404.49 L533.44,405.06 L534.03,405.62 L534.62,406.18 L535.22,406.75 L535.81,407.31 L536.40,407.87 L536.99,408.44 L537.59,409.00 L538.18,409.56 L538.78,410.12 L539.37,410.67 L539.97,411.23 L540.57,411.78 L541.17,412.33 L541.77,412.88 L542.38,413.43 L542.98,413.98 L543.59,414.52 L544.20,415.06 L544.81,415.59 L545.42,416.12 L546.04,416.65 L546.65,417.18 L547.27,417.70 L547.90,418.22 L548.52,418.73 L549.15,419.24 L549.78,419.74 L550.42,420.24 L551.06,420.73 L551.70,421.22 L552.34,421.70 L552.99,422.17 L553.64,422.64 L554.30,423.11 L554.96,423.57 L555.62,424.02 L556.29,424.46 L556.96,424.90 L557.64,425.33 L558.32,425.75 L559.00,426.17 L559.69,426.58 L560.39,426.98 L561.09,427.37 L561.79,427.75 L562.50,428.13 L563.22,428.50 L563.94,428.86 L564.66,429.21 L565.39,429.56 L566.12,429.90 L566.85,430.23 L567.59,430.55 L568.34,430.87 L569.08,431.18 L569.84,431.48 L570.59,431.77 L571.35,432.06 L572.11,432.35 L572.87,432.62 L573.64,432.89 L574.41,433.16 L575.18,433.41 L575.95,433.66 L576.73,433.91 L577.51,434.15 L578.29,434.38 L579.08,434.61 L579.86,434.83 L580.65,435.05 L581.44,435.26 L582.23,435.47 L583.03,435.67 L583.82,435.87 L584.62,436.06 L585.41,436.25 L586.21,436.43 L587.01,436.61 L587.81,436.78 L588.61,436.95 L589.41,437.11 L590.21,437.27 L591.01,437.43 L591.82,437.58 L592.62,437.73 L593.42,437.88 L594.22,438.02 L595.03,438.16 L595.83,438.29 L596.63,438.42 L597.43,438.55 L598.23,438.68 L599.03,438.80 L599.83,438.92 L600.63,439.04 L601.43,439.16 L602.23,439.28 L603.02,439.39 L603.82,439.51 L604.62,439.63 L605.42,439.74 L606.21,439.86 L607.01,439.97 L607.81,440.09 L608.60,440.21 L609.40,440.33 L610.20,440.46 L610.99,440.58 L611.79,440.71 L612.58,440.84 L613.38,440.98 L614.17,441.12 L614.97,441.26 L615.76,441.41 L616.56,441.56 L617.35,441.71 L618.15,441.87 L618.94,442.04 L619.74,442.21 L620.54,442.39 L621.33,442.58 L622.13,442.77 L622.92,442.97 L623.72,443.18 L624.51,443.39" fill="none" stroke="#A8A8A8" stroke-width="1.15" stroke-linejoin="round" stroke-linecap="round"/>
<path d="M398.86,443.88 L399.09,442.94 L399.31,442.00 L399.53,441.06 L399.75,440.11 L399.97,439.17 L400.18,438.23 L400.40,437.28 L400.61,436.34 L400.82,435.39 L401.03,434.44 L401.23,433.49 L401.43,432.55 L401.64,431.60 L401.84,430.65 L402.03,429.70 L402.23,428.75 L402.43,427.79 L402.62,426.84 L402.81,425.89 L403.00,424.94 L403.19,423.98 L403.38,423.03 L403.56,422.07 L403.74,421.12 L403.93,420.16 L404.11,419.20 L404.29,418.25 L404.46,417.29 L404.64,416.33 L404.81,415.37 L404.99,414.41 L405.16,413.45 L405.33,412.49 L405.50,411.53 L405.67,410.57 L405.84,409.61 L406.00,408.65 L406.17,407.69 L406.33,406.73 L406.49,405.77 L406.65,404.80 L406.81,403.84 L406.97,402.88 L407.13,401.91 L407.29,400.95 L407.44,399.99 L407.60,399.02 L407.75,398.06 L407.91,397.09 L408.06,396.13 L408.21,395.16 L408.36,394.20 L408.51,393.23 L408.66,392.26 L408.81,391.30 L408.95,390.33 L409.10,389.37 L409.25,388.40 L409.39,387.43 L409.54,386.47 L409.68,385.50 L409.83,384.53 L409.97,383.57 L410.11,382.60 L410.25,381.63 L410.39,380.67 L410.54,379.70 L410.68,378.73 L410.82,377.77 L410.96,376.80 L411.10,375.83 L411.23,374.87 L411.37,373.90 L411.51,372.93 L411.65,371.97 L411.79,371.00 L411.93,370.04 L412.06,369.07 L412.20,368.10 L412.34,367.14 L412.48,366.17 L412.61,365.21 L412.75,364.24 L412.89,363.28 L413.02,362.31 L413.16,361.35 L413.30,360.38 L413.43,359.42 L413.57,358.45 L413.71,357.49 L413.85,356.53 L413.98,355.56 L414.12,354.60 L414.26,353.64 L414.40,352.68 L414.54,351.72 L414.68,350.75 L414.82,349.79 L414.95,348.83 L415.09,347.87 L415.23,346.91 L415.38,345.95 L415.52,344.99 L415.66,344.04 L415.80,343.08 L415.94,342.12 L416.09,341.16 L416.23,340.21 L416.37,339.25 L416.52,338.30 L416.67,337.34 L416.81,336.39 L416.96,335.43 L417.11,334.48 L417.25,333.53 L417.40,332.57 L417.55,331.62 L417.70,330.67 L417.86,329.72 L418.01,328.77 L418.16,327.82 L418.32,326.87 L418.47,325.92 L418.63,324.98 L418.79,324.03 L418.95,323.08 L419.11,322.13 L419.27,321.18 L419.43,320.23 L419.59,319.28 L419.76,318.34 L419.93,317.39 L420.09,316.43 L420.26,315.48 L420.44,314.53 L420.61,313.58 L420.78,312.62 L420.96,311.67 L421.14,310.71 L421.32,309.76 L421.50,308.80 L421.69,307.84 L421.87,306.87 L422.06,305.91 L422.25,304.94 L422.44,303.98 L422.64,303.01 L422.84,302.04 L423.03,301.06 L423.24,300.09 L423.44,299.11 L423.65,298.13 L423.86,297.15 L424.07,296.16 L424.28,295.17 L424.50,294.18 L424.72,293.19 L424.94,292.19 L425.17,291.19 L425.40,290.20 L425.65,289.21 L425.92,288.23 L426.21,287.26 L426.52,286.30 L426.87,285.36 L427.24,284.44 L427.65,283.55 L428.10,282.68 L428.59,281.84 L429.14,281.04 L429.73,280.27 L430.37,279.54 L431.07,278.86 L431.80,278.25 L432.57,277.73 L433.34,277.32 L434.14,277.02 L434.94,276.82 L435.75,276.72 L436.56,276.72 L437.38,276.80 L438.21,276.97 L439.04,277.22 L439.86,277.53 L440.69,277.92 L441.51,278.37 L442.32,278.87 L443.13,279.42 L443.93,280.02 L444.72,280.66 L445.50,281.34 L446.26,282.04 L447.00,282.77 L447.73,283.52 L448.44,284.28 L449.13,285.05 L449.79,285.83 L450.44,286.61 L451.06,287.40 L451.67,288.20 L452.26,289.01 L452.83,289.82 L453.38,290.64 L453.91,291.46 L454.42,292.29 L454.92,293.13 L455.41,293.97 L455.87,294.82 L456.33,295.67 L456.76,296.53 L457.18,297.39 L457.59,298.26 L457.99,299.14 L458.37,300.02 L458.74,300.90 L459.10,301.79 L459.45,302.68 L459.79,303.57 L460.11,304.47 L460.43,305.37 L460.74,306.28 L461.04,307.19 L461.33,308.10 L461.61,309.02 L461.88,309.94 L462.15,310.86 L462.41,311.78 L462.67,312.71 L462.92,313.64 L463.16,314.57 L463.40,315.50 L463.64,316.43 L463.87,317.37 L464.10,318.30 L464.33,319.24 L464.55,320.18 L464.78,321.12 L465.00,322.06 L465.22,323.00 L465.44,323.94 L465.66,324.88 L465.89,325.82 L466.11,326.76 L466.33,327.70 L466.56,328.64 L466.78,329.58 L467.01,330.52 L467.24,331.47 L467.46,332.41 L467.69,333.35 L467.92,334.29 L468.15,335.23 L468.38,336.17 L468.61,337.11 L468.84,338.05 L469.08,338.99 L469.31,339.93 L469.54,340.87 L469.78,341.82 L470.01,342.76 L470.25,343.70 L470.48,344.64 L470.72,345.58 L470.96,346.52 L471.20,347.46 L471.44,348.40 L471.68,349.34 L471.92,350.28 L472.16,351.22 L472.40,352.16 L472.64,353.10 L472.88,354.04 L473.13,354.97 L473.37,355.91 L473.61,356.85 L473.86,357.79 L474.10,358.73 L474.35,359.67 L474.60,360.61 L474.84,361.54 L475.09,362.48 L475.34,363.42 L475.59,364.36 L475.84,365.29 L476.09,366.23 L476.34,367.17 L476.59,368.10 L476.84,369.04 L477.10,369.98 L477.35,370.91 L477.60,371.85 L477.86,372.78 L478.11,373.72 L478.37,374.65 L478.62,375.59 L478.88,376.52 L479.14,377.46 L479.39,378.39 L479.65,379.32 L479.92,380.26 L480.18,381.19 L480.45,382.12 L480.71,383.05 L480.98,383.98 L481.26,384.91 L481.53,385.84 L481.81,386.77 L482.09,387.70 L482.38,388.63 L482.66,389.56 L482.95,390.48 L483.25,391.41 L483.55,392.34 L483.85,393.26 L484.16,394.19 L484.47,395.11 L484.78,396.03 L485.10,396.95 L485.43,397.88 L485.76,398.80 L486.09,399.72 L486.43,400.63 L486.78,401.55 L487.13,402.47 L487.49,403.39 L487.85,404.30 L488.22,405.21 L488.60,406.13 L488.98,407.04 L489.37,407.95 L489.77,408.86 L490.17,409.77 L490.58,410.67 L491.00,411.58 L491.43,412.47 L491.87,413.36 L492.32,414.25 L492.78,415.13 L493.25,416.00 L493.73,416.86 L494.23,417.71 L494.73,418.55 L495.25,419.38 L495.78,420.20 L496.33,421.00 L496.89,421.79 L497.47,422.57 L498.06,423.33 L498.67,424.07 L499.29,424.80 L499.93,425.51 L500.59,426.20 L501.26,426.87 L501.96,427.51 L502.67,428.14 L503.40,428.74 L504.16,429.32 L504.93,429.88 L505.72,430.42 L506.52,430.93 L507.35,431.43 L508.18,431.90 L509.04,432.36 L509.90,432.79 L510.78,433.21 L511.67,433.61 L512.57,433.99 L513.49,434.36 L514.41,434.71 L515.34,435.04 L516.28,435.36 L517.22,435.66 L518.17,435.95 L519.13,436.22 L520.09,436.49 L521.06,436.74 L522.02,436.98 L522.99,437.20 L523.96,437.42 L524.93,437.63 L525.90,437.82 L526.87,438.01 L527.84,438.19 L528.80,438.36 L529.76,438.52 L530.72,438.68 L531.66,438.83 L532.61,438.98 L533.54,439.13 L534.46,439.30 L535.38,439.49 L536.27,439.72 L537.16,440.01 L538.02,440.35 L538.87,440.76 L539.69,441.26 L540.49,441.85 L541.27,442.55 L542.02,443.37" fill="none" stroke="#111" stroke-width="1.40" stroke-linejoin="round" stroke-linecap="round"/>
<line x1="566.90" y1="278.10" x2="575.30" y2="278.10" stroke="#2a2a2a" stroke-width="1.70"/>
<text transform="translate(577.30,280.05) rotate(0.050) scale(1,1.040)" font-size="7.20" text-anchor="start" fill="#1a1a1a">N188D/N214D monomer</text>
<line x1="566.90" y1="289.15" x2="575.30" y2="289.15" stroke="#BBBBBB" stroke-width="1.30"/>
<text transform="translate(577.30,291.10) rotate(0.050) scale(1,1.040)" font-size="7.20" text-anchor="start" fill="#1a1a1a">N188D/N214D dimer</text>
</svg>
</body></html>
